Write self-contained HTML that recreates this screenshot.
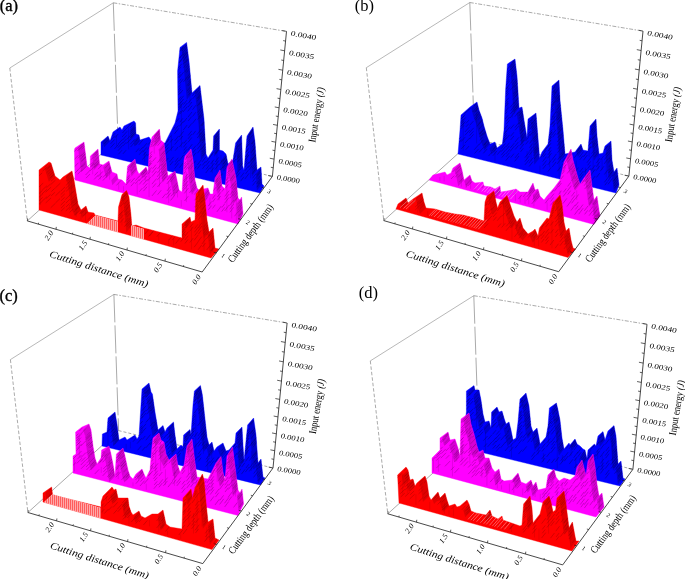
<!DOCTYPE html>
<html><head><meta charset="utf-8"><title>Input energy plots</title>
<style>html,body{margin:0;padding:0;background:#fff;}svg{display:block;}</style></head>
<body><svg width="685" height="579" viewBox="0 0 685 579" font-family="'Liberation Serif', serif" fill="#000">
<defs><pattern id="hatch" width="2" height="4" patternUnits="userSpaceOnUse"><rect x="0" y="0" width="2" height="4" fill="#ffa8a8"/><rect x="0" y="0" width="1" height="4" fill="#ff5c5c"/></pattern></defs>
<g id="panel-a">
<line x1="27.3" y1="220.9" x2="118" y2="139" stroke="#707070" stroke-width="0.6"/>
<line x1="118" y1="139" x2="272.4" y2="176.4" stroke="#707070" stroke-width="0.6" stroke-dasharray="3 2"/>
<line x1="9.8" y1="68" x2="113.3" y2="2.8" stroke="#707070" stroke-width="0.5"/>
<line x1="113.3" y1="2.8" x2="286.5" y2="31.4" stroke="#707070" stroke-width="0.6" stroke-dasharray="4 1.5 1.5 1.5"/>
<line x1="9.8" y1="68" x2="27.3" y2="220.9" stroke="#707070" stroke-width="0.6" stroke-dasharray="3.5 2"/>
<line x1="113.3" y1="2.8" x2="118" y2="139" stroke="#707070" stroke-width="0.6" stroke-dasharray="28 3"/>
<clipPath id="cablue"><polygon points="101,155 101,142 108,136 110,141 113,132 120,127 122,130 124,126 134,121 135.6,123 136,134 139,135 140,140 149,137 151,140 153,143 165,143 170,133 175,123 178,111 177.6,71 180,47.4 186.6,42.4 189,61 192,93 200,85.4 204,119 206,154 208,158 213,150 213.6,136 219.4,129 219.4,150 223,151 226,154 228,164 233,160 235.6,143 241.6,135 242.6,166 244,170 247,136 253,127 255,142 257,170 261,167 262,184 264,186 260,193"/></clipPath>
<polygon points="101,155 101,142 108,136 110,141 113,132 120,127 122,130 124,126 134,121 135.6,123 136,134 139,135 140,140 149,137 151,140 153,143 165,143 170,133 175,123 178,111 177.6,71 180,47.4 186.6,42.4 189,61 192,93 200,85.4 204,119 206,154 208,158 213,150 213.6,136 219.4,129 219.4,150 223,151 226,154 228,164 233,160 235.6,143 241.6,135 242.6,166 244,170 247,136 253,127 255,142 257,170 261,167 262,184 264,186 260,193" fill="#0000ff" stroke="#0000ff" stroke-width="0.4"/>
<g fill="#000078" opacity="0.36" clip-path="url(#cablue)"><polygon points="108,136 110,141 104.25,147.26 102.25,142.26"/><polygon points="135.6,123 136,134 130.45,140.44 130.05,129.44"/><polygon points="139,135 140,140 134.47,146.46 133.47,141.46"/><polygon points="186.6,42.4 189,61 183.79,67.72 181.39,49.12"/><polygon points="189,61 192,93 186.81,99.73 183.81,67.73"/><polygon points="200,85.4 204,119 198.88,125.78 194.88,92.18"/><polygon points="204,119 206,154 200.89,160.79 198.89,125.79"/><polygon points="219.4,129 219.4,150 214.29,156.79 214.29,135.79"/><polygon points="226,154 228,164 222.89,170.79 220.89,160.79"/><polygon points="241.6,135 242.6,166 237.49,172.79 236.49,141.79"/><polygon points="253,127 255,142 249.89,148.79 247.89,133.79"/><polygon points="255,142 257,170 251.89,176.79 249.89,148.79"/><polygon points="261,167 262,184 256.89,190.79 255.89,173.79"/></g>
<path d="M103.83 141.5L106.18 138.97M106.17 139.5L108.91 136.53M109 138.5L104.16 143.78M112.75 135.75L115.09 133.17M117 131L119.59 128.12M129.5 125L131.86 122.3M135.76 127.4L130.43 133.58M135.84 129.6L130.74 135.52M135.92 131.8L130.92 137.6M166.75 142L169.17 139M168 139.5L170.89 135.92M173 129.5L175.15 126.8M176.1 122.1L179.19 118.2M177.9 114.9L180.99 110.98M178.47 110L181.23 106.5M178.45 107.5L180.94 104.35M178.43 105L181.4 101.23M178.38 100L181.17 96.46M178.32 95L180.4 92.37M178.3 92.5L181.15 88.88M178.28 90L180.89 86.68M178.25 87.5L180.59 84.54M178.2 82.5L181.23 78.66M178.15 77.5L180.51 74.5M178.12 75L180.6 71.86M178.34 70.14L180.95 66.83M178.58 67.78L181.69 63.84M179.06 63.06L181.9 59.45M179.54 58.34L181.75 55.53M180.26 51.26L183.25 47.46M186.9 44.73L181.97 51.09M187.2 47.05L182.6 52.99M187.5 49.38L182.81 55.44M187.8 51.7L182.64 58.37M188.1 54.02L184.59 58.57M188.7 58.67L185.39 62.96M189.23 63.46L185.89 67.79M189.46 65.92L184.76 72.02M189.69 68.38L186.53 72.49M190.15 73.31L186.22 78.42M190.38 75.77L187.07 80.08M190.85 80.69L187.05 85.63M191.31 85.62L187.03 91.18M191.54 88.08L187.82 92.92M191.77 90.54L188.15 95.25M195.17 91.97L197.48 88.93M197.83 89.43L200.87 85.43M200.31 87.98L196.05 93.63M200.92 93.15L196.79 98.63M201.23 95.74L197.04 101.3M201.85 100.91L198.82 104.94M202.46 106.08L197.51 112.66M202.77 108.66L197.87 115.18M203.08 111.25L198.91 116.78M203.38 113.83L199.89 118.48M204.14 121.5L200.95 125.74M204.57 129L200.28 134.71M204.71 131.5L200.5 137.1M204.86 134L199.98 140.48M205 136.5L201.45 141.23M205.14 139L201.98 143.2M205.43 144L201.09 149.77M205.71 149L202.1 153.81M205.86 151.5L202.35 156.16M209.75 157.5L212.5 153.85M211 155.5L213.93 151.6M213.6 149.17L215.64 146.45M213.7 146.83L215.82 144.02M213.8 144.5L216.26 141.23M213.9 142.17L216.71 138.43M214 139.83L216.92 135.95M216.03 135.17L218.69 131.64M217.97 132.83L220.78 129.1M219.4 131.33L214.65 137.65M219.4 133.67L215.46 138.9M219.4 136L215.48 141.22M219.4 138.33L215.91 142.97M219.4 140.67L216.11 145.05M219.4 143L214.84 149.06M219.4 145.33L215.75 150.18M219.4 147.67L215.2 153.25M226.5 156.5L222.69 161.57M227 159L223.09 164.2M227.5 161.5L222.59 168.02M233.87 159.07L235.99 156.25M234.24 156.64L236.57 153.54M234.61 154.21L236.82 151.29M234.99 151.79L237.45 148.51M235.36 149.36L238.38 145.34M235.73 146.93L237.85 144.11M240.6 138.5L243.53 134.6M241.68 137.58L238.24 142.16M241.85 142.75L238.7 146.94M242.02 147.92L238.69 152.34M242.1 150.5L237.32 156.86M242.18 153.08L238.37 158.15M242.27 155.67L237.33 162.23M242.43 160.83L238.93 165.49M242.52 163.42L239.44 167.51M245.14 164.21L247.24 161.42M245.36 161.79L247.55 158.87M245.57 159.36L248.5 155.46M245.79 156.93L247.85 154.19M246.21 152.07L248.36 149.22M246.64 147.21L249.49 143.43M246.86 144.79L249.81 140.86M247.07 142.36L249.52 139.1M247.29 139.93L249.57 136.89M249 135.25L251.17 132.37M250.5 133L253.08 129.57M252 130.75L254.88 126.92M253.33 129.5L249.26 134.92M254.67 139.5L251.21 144.09M255.36 147.09L250.96 152.95M255.91 154.73L251.44 160.67M256.09 157.27L252.55 161.98M256.45 162.36L252.24 167.96M256.64 164.91L253.51 169.07M256.82 167.45L252.04 173.8M261.14 169.43L257.05 174.87M261.43 174.29L257.97 178.88M261.71 179.14L258.12 183.92M110.18 140.88L114.91 135.68M110.6 143.88L114.48 139.62M110.55 147.69L114.53 143.31M114.69 137.95L118.32 133.93M114.41 148.94L118.6 144.29M118.23 144.03L122.31 139.46M117.93 147.65L122.62 142.4M117.9 150.78L122.65 145.46M118.39 154.29L122.15 150.08M122.46 133L126.67 128.23M122.08 136.97L127.05 131.36M122.37 140.29L126.76 135.33M122.6 143.27L126.54 138.82M123 145.86L126.14 142.3M122.94 153.83L126.19 150.15M126.7 128.41L130.64 123.92M127.09 139.18L130.25 135.58M126.64 143.62L130.71 138.98M130.34 127.83L134.34 123.23M130.56 131.5L134.12 127.4M130.53 137.75L134.14 133.6M130.23 144.34L134.44 139.5M130.51 147.07L134.16 142.87M135.54 141.52L139.25 137.21M135.57 145.35L139.22 141.1M135.76 152.14L139.03 148.32M138.74 144.89L143.43 139.39M139.56 150.94L142.61 147.37M139.2 154.7L142.97 150.27M142.61 148.26L146.9 143.18M142.75 152.21L146.76 147.46M143.14 155.52L146.37 151.69M142.35 159.64L147.16 153.96M148.09 144.63L151.13 140.99M147.29 149.66L151.92 144.13M147.33 156.07L151.89 150.62M151.26 158.17L155.48 153.09M151.02 161.82L155.71 156.18M156.52 152.19L159.88 148.09M156.14 159.79L160.26 154.79M160.68 149.85L163.86 145.95M164.54 144.72L169 139.2M164.87 148.35L168.67 143.64M165.16 151.4L168.38 147.41M164.81 155.4L168.73 150.55M165.2 161.8L168.34 157.91M169.99 142.59L173.03 138.79M169.7 150.71L173.33 146.17M169.36 162.23L173.66 156.85M169.93 165.21L173.1 161.24M174.87 129.97L178.4 125.5M174.47 133.81L178.8 128.33M174.71 140.82L178.56 135.96M174.74 144.64L178.53 139.84M175.13 150.67L178.14 146.85M175 161.86L178.26 157.73M174.66 165.29L178.61 160.3M174.57 168.66L178.7 163.43M179.26 51.57L183.53 46.12M179.4 58.25L183.39 53.15M179.24 62.38L183.55 56.87M179.16 77.85L183.64 72.13M179.33 84.04L183.46 78.77M179.97 93.69L182.82 90.05M179.14 101.54L183.65 95.78M179.12 104.76L183.68 98.93M179.38 107.6L183.41 102.45M179.73 114.22L183.06 109.97M179.88 122.18L182.91 118.31M179.38 126.43L183.41 121.29M179.15 136.97L183.65 131.23M179.95 139.72L182.84 136.03M179.42 146.94L183.38 141.89M179.17 160.81L183.62 155.14M179.44 167.7L183.35 162.7M183.49 56.6L186.93 52.17M183.07 61.22L187.34 55.73M183.09 64.35L187.32 58.91M183.62 67.61L186.79 63.54M183.48 81.93L186.93 77.5M183.51 104.56L186.91 100.18M183.14 108.36L187.28 103.04M183.11 111.96L187.3 106.56M183.41 122.5L187.01 117.86M183.23 130.07L187.19 124.98M183.76 143.52L186.65 139.8M183.37 147.3L187.04 142.58M183.73 150.41L186.68 146.62M183.6 153.62L186.81 149.49M183.58 161.66L186.83 157.48M183.29 165.64L187.12 160.71M182.92 169.46L187.49 163.57M188.43 78L191.47 74.07M188.56 81.92L191.34 78.3M188.21 86.05L191.69 81.54M188.04 103.42L191.86 98.45M187.97 107.15L191.93 102.01M187.71 111.35L192.19 105.54M187.94 117.2L191.96 111.97M188.32 120.88L191.58 116.64M188.21 128L191.69 123.47M188.13 135.51L191.77 130.79M188.07 138.83L191.83 133.95M188.11 142.29L191.79 137.51M187.67 150.13L192.23 144.2M188.18 159.69L191.72 155.1M188.35 163.13L191.55 158.96M188.53 167.02L191.37 163.34M192.45 95.71L196 91.06M192.82 98.78L195.63 95.09M192.44 109.81L196.01 105.13M192.62 116.43L195.83 112.23M192.42 123.51L196.03 118.79M192.75 134.72L195.71 130.84M192.65 149.81L195.8 145.69M192.79 152.99L195.66 149.23M192.5 157.22L195.95 152.69M192.67 164.67L195.78 160.61M192.06 172L196.39 166.32M197.6 95.15L200.86 90.83M197.56 98.8L200.9 94.37M197.2 106.14L201.26 100.76M197.44 119.73L201.02 114.99M197 134.68L201.46 128.76M197.18 138.07L201.28 132.65M196.98 145.64L201.48 139.69M197.37 149.28L201.09 144.35M197.5 153.26L200.96 148.68M197.29 165.02L201.17 159.9M197.44 168.7L201.01 163.98M201.98 125.92L205.89 120.72M201.84 137.76L206.03 132.19M202.44 140.95L205.43 136.97M201.8 148.69L206.06 143.02M201.9 151.92L205.96 146.52M202.08 161.8L205.78 156.89M202.35 165.42L205.51 161.22M202.45 168.85L205.42 164.9M205.68 162.77L209.83 157.25M206.06 165.61L209.44 161.11M206.02 169.43L209.49 164.81M205.72 173.04L209.79 167.62M210.63 164.13L213.92 159.74M210.17 168.67L214.38 163.07M210.52 172.11L214.03 167.44M215.21 139.18L218.68 134.56M214.71 143.4L219.17 137.47M215.4 146.59L218.48 142.49M215.34 154.11L218.54 149.85M215.19 162.01L218.69 157.36M215.18 165.21L218.71 160.51M214.96 169.52L218.93 164.23M215.47 176.35L218.42 172.43M218.79 165.15L223.04 159.5M218.8 172.33L223.03 166.7M219.32 177.84L222.51 173.6M223.64 159.83L227.49 154.7M223.34 164.12L227.79 158.21M223.47 171.24L227.66 165.67M228.37 179.71L231.75 175.21M232.38 156.96L236.07 152.05M232.05 160.67L236.39 154.9M232.47 163.54L235.97 158.89M236.01 149.16L240.04 143.8M236.24 152.2L239.82 147.44M236.43 159.77L239.62 155.52M236 174.58L240.05 169.19M236.07 177.62L239.99 172.4M240.78 161.42L243.69 157.55M240.53 165.76L243.94 161.23M240.35 169.69L244.11 164.69M240.49 177.29L243.97 172.67M240.57 181.22L243.9 176.79M244.86 141.79L249.05 136.23M245.13 149.15L248.78 144.31M244.99 152.97L248.92 147.74M244.72 157.42L249.19 151.49M244.85 160.32L249.06 154.72M244.93 167.16L248.98 161.77M244.98 170.74L248.93 165.48M245.56 173.91L248.35 170.2M244.8 179.09L249.11 173.35M248.59 136.98L252.57 131.68M248.5 140.58L252.66 135.05M248.45 163.96L252.71 158.3M248.34 167.67L252.81 161.73M248.82 170.05L252.34 165.37M252.06 144.01L256.4 138.23M252.18 147.25L256.27 141.81M252.14 151.26L256.32 145.7M252.12 155.41L256.34 149.8M252.26 159.36L256.2 154.11M252.58 178.25L255.88 173.87M252.62 181.59L255.84 177.32M252.58 185.47L255.88 181.08M256.86 176.67L260.52 171.8M256.62 183.88L260.76 178.37M256.75 187.22L260.62 182.08" stroke="#000078" stroke-width="0.9" fill="none" opacity="0.55" clip-path="url(#cablue)"/>
<path d="M102.5 144.98L102.5 150.35M116.51 135.49L116.51 145.87M128.67 127.89L128.67 149.38M144.75 151.74L144.75 161.77M162.27 146.14L162.27 164.06M171.51 134.78L171.51 151.11M181.4 103.84L181.4 147.65M189.95 93.04L189.95 103.34M199.23 115.51L199.23 138.95M212.27 160.28L212.27 173.24M216.94 152.06L216.94 171.68M220.92 155.05L220.92 178.58M230.06 167.61L230.06 177.51M238.03 153.41L238.03 160.31M250.58 157.12L250.58 178.17M254.23 142.86L254.23 160.78" stroke="#000078" stroke-width="0.7" fill="none" opacity="0.35" clip-path="url(#cablue)"/>
<clipPath id="camag"><polygon points="75,180 74.4,150 75,148 84,142 87,166 90,168 90.4,156 98,149 99.6,164 103,165 109,161 112,172 117,174 118,179 122,180 126,184 127.6,166 135,159 137,170 139,174 146,167 148,172 149.4,148 152,137 159.4,129 160.6,140 164,143 167,170 168,176 175,171 177,180 179,190 182,192 184,160 185,156 191,149 193,160 195,180 197,188 199,190 208,188 210,194 213,194 215,178 220,170 222,186 225,189 227,167 232,159 236,178 238,198 240,200 241.6,197 243,214 238,224"/></clipPath>
<polygon points="75,180 74.4,150 75,148 84,142 87,166 90,168 90.4,156 98,149 99.6,164 103,165 109,161 112,172 117,174 118,179 122,180 126,184 127.6,166 135,159 137,170 139,174 146,167 148,172 149.4,148 152,137 159.4,129 160.6,140 164,143 167,170 168,176 175,171 177,180 179,190 182,192 184,160 185,156 191,149 193,160 195,180 197,188 199,190 208,188 210,194 213,194 215,178 220,170 222,186 225,189 227,167 232,159 236,178 238,198 240,200 241.6,197 243,214 238,224" fill="#ff00ff" stroke="#ff00ff" stroke-width="0.4"/>
<g fill="#90008c" opacity="0.36" clip-path="url(#camag)"><polygon points="84,142 87,166 81.07,172.09 78.07,148.09"/><polygon points="98,149 99.6,164 93.77,170.19 92.17,155.19"/><polygon points="109,161 112,172 106.26,178.27 103.26,167.27"/><polygon points="117,174 118,179 112.31,185.32 111.31,180.32"/><polygon points="135,159 137,170 131.44,176.43 129.44,165.43"/><polygon points="146,167 148,172 142.52,178.5 140.52,173.5"/><polygon points="159.4,129 160.6,140 155.21,146.57 154.01,135.57"/><polygon points="164,143 167,170 161.64,176.6 158.64,149.6"/><polygon points="167,170 168,176 162.66,182.62 161.66,176.62"/><polygon points="175,171 177,180 171.72,186.66 169.72,177.66"/><polygon points="177,180 179,190 173.73,196.67 171.73,186.67"/><polygon points="191,149 193,160 187.82,166.74 185.82,155.74"/><polygon points="193,160 195,180 189.83,186.75 187.83,166.75"/><polygon points="195,180 197,188 191.85,194.76 189.85,186.76"/><polygon points="208,188 210,194 204.89,200.79 202.89,194.79"/><polygon points="220,170 222,186 216.89,192.79 214.89,176.79"/><polygon points="232,159 236,178 230.89,184.79 226.89,165.79"/><polygon points="236,178 238,198 232.89,204.79 230.89,184.79"/><polygon points="241.6,197 243,214 237.89,220.79 236.49,203.79"/></g>
<path d="M78.5 147.5L81.59 144.37M81.5 145.5L84.63 142.31M84.3 144.4L78.98 149.87M85.2 151.6L80.77 156.17M85.5 154L80.24 159.42M85.8 156.4L81.46 160.87M86.4 161.2L80.67 167.12M90.58 167.1L93.16 164.41M90.66 164.7L93.11 162.15M90.82 159.9L93.34 157.27M93.43 155.17L96.82 151.62M95.97 152.83L99.35 149.26M98.27 151.5L94.69 155.3M98.8 156.5L94.23 161.36M99.33 161.5L94.36 166.81M109.6 163.2L104.99 168.23M110.8 167.6L107.09 171.66M111.4 169.8L105.81 175.93M126.73 182.93L129.51 179.77M126.96 180.36L129.17 177.84M127.19 177.79L130.01 174.58M127.87 170.07L130.71 166.84M130.57 165.17L133.29 162.04M135.4 161.2L131.02 166.28M135.8 163.4L132.16 167.62M136.6 167.8L131.75 173.44M141.83 173.17L145.05 169.39M144.17 170.83L146.64 167.92M147 169.5L142.64 174.68M148.64 171.1L151.74 167.41M148.92 166.3L151.88 162.77M149.06 163.9L151.57 160.91M149.34 159.1L152.07 155.84M149.48 156.7L151.7 154.05M149.62 154.3L152.04 151.41M150.42 147.3L152.82 144.43M150.94 145.1L154.17 141.24M151.46 142.9L153.75 140.15M151.98 140.7L155.01 137.06M154.35 136.5L156.86 133.48M156.2 134.5L159.34 130.69M158.05 132.5L160.38 129.66M159.64 131.2L155.01 136.85M159.88 133.4L154.9 139.48M160.12 135.6L154.97 141.9M160.36 137.8L155.85 143.31M164.27 145.45L160.15 150.53M164.82 150.36L160.49 155.71M165.09 152.82L160.77 158.16M165.36 155.27L160.36 161.45M165.64 157.73L161.95 162.28M165.91 160.18L161.69 165.4M166.18 162.64L162.86 166.75M166.45 165.09L162.4 170.11M166.73 167.55L162.17 173.2M167.33 172L164.05 176.07M172 175L175.1 171.12M175.5 173.25L170.37 179.72M177.5 182.5L173.52 187.55M178 185L173.1 191.21M182.65 191.04L184.74 188.36M182.81 188.58L185.5 185.13M182.96 186.12L185.72 182.58M183.12 183.65L185.26 180.91M183.27 181.19L186.34 177.26M183.73 173.81L185.64 171.36M184.04 168.88L186.3 165.99M184.19 166.42L186.64 163.29M184.35 163.96L186.33 161.41M191.4 151.2L186.23 157.94M191.8 153.4L188.28 157.99M193.25 162.5L188.19 169.12M193.5 165L190.08 169.47M194 170L189.43 175.98M194.25 172.5L189.31 178.97M194.5 175L191.44 179.01M194.75 177.5L190.51 183.06M195.5 182L192.05 186.53M196 184L192.71 188.33M196.5 186L192.23 191.62M208.67 190L204.49 195.56M209.33 192L205.56 197.02M214.93 184.07L217.65 180.45M215.21 181.79L218.01 178.07M219.25 173.5L221.48 170.53M220.57 174.57L216.04 180.6M220.86 176.86L216.65 182.45M221.14 179.14L216.95 184.72M221.43 181.43L217.1 187.19M221.71 183.71L218.08 188.55M226.17 183.17L228.58 179.96M226.39 180.72L228.88 177.41M226.61 178.28L229.47 174.47M226.83 175.83L228.93 173.04M227.06 173.39L229.38 170.3M230 164.5L233.04 160.46M231.25 162.5L233.21 159.89M233 163.75L229.16 168.86M233.5 166.12L229.54 171.39M234 168.5L230.93 172.59M235 173.25L230.68 178.99M235.5 175.62L231.71 180.66M236.25 180.5L232.25 185.82M236.5 183L232.22 188.69M236.75 185.5L233.43 189.92M237 188L233.21 193.03M237.25 190.5L233.38 195.64M241.8 199.43L238.53 203.78M242 201.86L237.14 208.32M242.2 204.29L237.62 210.38M242.4 206.71L238.24 212.25M242.8 211.57L239.14 216.43M73.5 152.31L78.3 147.49M73.28 160.47L78.52 155.21M73.27 168L78.53 162.71M73.8 174.22L78 169.99M77.28 151.06L82.33 145.93M77.88 158.42L81.72 154.51M77.29 170.59L82.31 165.49M77.55 174.3L82.05 169.73M81.37 149.56L86.37 144.42M81.94 157.13L85.8 153.17M81.4 161.72L86.34 156.65M82.2 167.03L85.54 163.61M81.39 171.48L86.35 166.38M85.49 175.04L90.51 169.84M86.01 178.18L89.99 174.06M90.97 166.39L94.43 162.77M90.24 170.72L95.16 165.56M94.51 157.37L98.19 153.48M94.12 165L98.58 160.27M94.4 167.83L98.3 163.71M94.61 175.38L98.09 171.71M94.09 179.49L98.61 174.7M98.02 169.18L102.63 164.25M97.78 176.86L102.87 171.43M98.53 179.7L102.12 175.87M102.9 177.52L107.73 172.3M102.93 180.53L107.69 175.37M108 169.91L111.23 166.38M116.45 185.42L121 180.35M126.33 170.08L130.21 165.66M126.14 173.78L130.4 168.93M126.45 180.44L130.09 176.3M125.91 185L130.63 179.63M130.63 167.27L134.86 162.4M130.52 171.28L134.96 166.16M130.73 182.55L134.76 177.91M130.87 186.22L134.62 181.9M135.36 180.67L139.04 176.4M135.28 183.78L139.12 179.31M138.52 177.39L143.23 171.87M138.85 181.06L142.9 176.3M139.16 184.48L142.59 180.45M139.39 191.6L142.36 188.11M142.99 174.13L147.59 168.68M143.72 176.9L146.86 173.17M143.33 180.46L147.25 175.82M143 184.57L147.58 179.15M143.22 188.27L147.37 183.36M143.43 191.13L147.15 186.72M147.21 160.7L150.94 156.25M147.52 163.55L150.63 159.83M147.05 167.72L151.1 162.88M147.45 174.46L150.7 170.58M147.23 181.29L150.92 176.87M152.67 146.63L155.84 142.8M152.57 161.5L155.94 157.42M152.6 168.71L155.91 164.71M152.06 172.71L156.45 167.41M151.95 176.63L156.56 171.06M151.89 184.2L156.62 178.49M152.54 187.52L155.97 183.38M151.98 195.94L156.53 190.44M157.22 135.76L161.65 130.35M157.99 139L160.89 135.46M157.58 145.72L161.3 141.18M157.42 162.78L161.46 157.85M157.38 169.14L161.49 164.12M157.25 173.21L161.63 167.86M157.1 176.9L161.78 171.18M157.24 180.13L161.64 174.75M157.46 187L161.42 182.16M157.62 194.65L161.25 190.22M162.3 154.11L165.85 149.74M162.09 168.35L166.06 163.45M162 175.29L166.15 170.17M161.8 178.82L166.35 173.22M161.97 181.62L166.17 176.45M162.25 198.08L165.89 193.6M167.21 179.85L170.18 176.15M166.77 183.99L170.63 179.18M166.86 191.05L170.54 186.47M166.43 194.82L170.96 189.19M166.43 198.28L170.96 192.65M170.83 178.64L174.38 174.18M170.53 182.02L174.68 176.82M170.95 196.32L174.26 192.16M170.59 200.45L174.62 195.39M176.03 193.06L179.01 189.28M184.98 159.9L187.85 156.19M184.41 168.22L188.42 163.06M185.02 170.54L187.81 166.94M185.01 177.56L187.82 173.94M184.12 181.89L188.71 175.97M184.58 185.44L188.26 180.69M184.59 189.03L188.25 184.31M184.3 193.42L188.53 187.96M184.58 201L188.25 196.26M189.87 157.92L192.88 154M189.65 161.97L193.1 157.48M189.46 192.94L193.29 187.96M194.31 194.55L198.46 189.09M194.67 200.26L198.1 195.75M194.45 207.26L198.32 202.16M199.28 195.55L202.73 190.96M199.07 199.81L202.94 194.67M199.4 206.28L202.6 202.04M203.67 202.51L207.46 197.48M208.18 206.12L211.64 201.51M208.33 209.83L211.49 205.63M212.05 192.42L215.92 187.27M212.55 198.48L215.42 194.66M212.63 201.96L215.34 198.35M212.59 208.43L215.37 204.73M217.56 185.47L220.6 181.43M216.91 190.44L221.25 184.66M217.43 193.4L220.73 189M217.3 197.05L220.86 192.31M217.5 200.19L220.66 195.98M216.9 211.83L221.25 206.05M221.83 191.67L224.7 187.86M221.79 207.67L224.74 203.76M221.67 211.59L224.86 207.36M225.54 180.81L228.24 177.21M225.26 185.32L228.52 180.99M225.49 188.1L228.29 184.37M224.7 196.45L229.07 190.64M224.79 199.73L228.99 194.16M224.67 203.24L229.11 197.35M224.69 210.92L229.09 205.07M229.51 181.07L233.97 175.14M230.12 187.89L233.36 183.59M230.22 194.65L233.26 190.61M230.02 198.2L233.46 193.63M229.59 205.56L233.89 199.85M229.76 209.3L233.72 204.05M229.88 212.27L233.6 207.32M234.26 186.49L238.39 181.01M234.73 189.75L237.92 185.52M234.29 197.34L238.36 191.93M234.16 201.49L238.49 195.73M234.5 216.28L238.15 211.42M238.69 215.82L242.28 211.05M239.02 219.46L241.95 215.57" stroke="#90008c" stroke-width="0.9" fill="none" opacity="0.55" clip-path="url(#camag)"/>
<path d="M92.7 162.96L92.7 174.31M100.32 169.51L100.32 179.41M109.61 166.46L109.61 179.72M118.73 182.57L118.73 189.8M123.49 186.13L123.49 191.09M137.2 182.45L137.2 194.58M145.29 176.14L145.29 181.27M149.07 166.94L149.07 197.1M154.25 140.15L154.25 153.71M159.44 158.74L159.44 186.64M168.7 181.01L168.7 203.08M177.52 192.16L177.52 197.53M181.31 200.03L181.31 206.7M186.42 172.32L186.42 202.15M191.37 154.77L191.37 182.43M201 197.02L201 212.01M209.91 197.66L209.91 206.1M219.08 186.64L219.08 200.34M226.89 184.17L226.89 212.33M231.74 190.76L231.74 218.45M236.32 197.08L236.32 220.75M240.48 205.17L240.48 211.94" stroke="#90008c" stroke-width="0.7" fill="none" opacity="0.35" clip-path="url(#camag)"/>
<clipPath id="cared"><polygon points="39,210 39,170 49,162 51,163 55,176 60,180 63,177 72,171 74,180 78,204 81,210 86,206 88,212 94,213 95,215 118,221 118.5,207 122,194.5 126.5,190.5 129,197 131,215 131.8,226 136,225 144,228 182,238 182,224 190,217 191,222 195,220 196,194 203,185 205,200 207,220 209,232 213,228 215,248 219,249 211,258"/></clipPath>
<polygon points="39,210 39,170 49,162 51,163 55,176 60,180 63,177 72,171 74,180 78,204 81,210 86,206 88,212 94,213 95,215 118,221 118.5,207 122,194.5 126.5,190.5 129,197 131,215 131.8,226 136,225 144,228 182,238 182,224 190,217 191,222 195,220 196,194 203,185 205,200 207,220 209,232 213,228 215,248 219,249 211,258" fill="#ff0000" stroke="#ff0000" stroke-width="0.4"/>
<g fill="#a80000" opacity="0.36" clip-path="url(#cared)"><polygon points="51,163 55,176 48.81,181.83 44.81,168.83"/><polygon points="72,171 74,180 67.98,186 65.98,177"/><polygon points="74,180 78,204 71.99,210.01 67.99,186.01"/><polygon points="78,204 81,210 75.02,216.04 72.02,210.04"/><polygon points="86,206 88,212 82.08,218.1 80.08,212.1"/><polygon points="126.5,190.5 129,197 123.38,203.38 120.88,196.88"/><polygon points="129,197 131,215 125.4,221.4 123.4,203.4"/><polygon points="131,215 131.8,226 126.22,232.41 125.42,221.41"/><polygon points="190,217 191,222 185.82,228.74 184.82,223.74"/><polygon points="203,185 205,200 199.89,206.79 197.89,191.79"/><polygon points="205,200 207,220 201.89,226.79 199.89,206.79"/><polygon points="207,220 209,232 203.89,238.79 201.89,226.79"/><polygon points="213,228 215,248 209.89,254.79 207.89,234.79"/></g>
<path d="M44.5 167.5L47.82 164.44M51.67 165.17L47.42 169.17M52.33 167.33L46.53 172.82M53 169.5L47.85 174.38M53.67 171.67L49.32 175.79M54.33 173.83L49.71 178.23M66.5 176.5L70.07 173M69.5 174.5L71.69 172.34M72.5 173.25L66.56 179.17M73 175.5L67.96 180.53M73.5 177.75L68.27 182.98M74.8 184.8L70.58 189.03M75.6 189.6L71.99 193.23M76.4 194.4L70.67 200.17M76.8 196.8L71.18 202.47M77.2 199.2L73.3 203.13M77.6 201.6L73.67 205.57M79 206L75.28 209.77M86.67 208L81.15 213.71M102.67 217L97.8 222.23M110.33 219L106.63 223.05M118.58 220.17L120.73 217.77M118.67 217.83L121.61 214.56M118.75 215.5L122.05 211.82M119.7 206L122.95 202.37M120.4 203.5L123.51 200.02M121.1 201L123.6 198.2M121.8 198.5L124.68 195.26M127.33 192.67L122.29 198.41M128.17 194.83L123.38 200.29M129.57 202.14L124.52 207.92M129.86 204.71L126.5 208.55M130.43 209.86L125.83 215.13M130.71 212.43L126.57 217.19M131.16 217.2L126.99 221.99M131.32 219.4L125.88 225.65M131.48 221.6L126.98 226.76M153.5 230.5L148.47 236.57M172.5 235.5L168.86 240.07M182.5 237.17L184.99 233.98M182.5 234.83L185.6 230.86M182.5 232.5L185.08 229.2M182.5 230.17L184.73 227.32M182.5 227.83L185.52 223.97M185.17 223.17L188.11 219.38M187.83 220.83L190.89 216.88M190.5 219.5L185.56 225.93M195.59 219.14L197.69 216.38M195.68 216.77L198.12 213.57M195.77 214.41L198.17 211.26M195.86 212.05L198.02 209.21M195.95 209.68L198.65 206.14M196.05 207.32L197.91 204.87M196.14 204.95L198.81 201.44M196.23 202.59L198.41 199.72M196.32 200.23L198.19 197.77M196.41 197.86L199.42 193.91M198.25 193.25L200.26 190.6M200 191L202.57 187.59M201.75 188.75L203.87 185.94M204 192.5L200.12 197.66M204.33 195L199.29 201.71M204.67 197.5L200.91 202.49M205.5 205L202.14 209.47M206 210L202.42 214.75M206.25 212.5L202.88 216.98M207.4 222.4L204.19 226.67M207.8 224.8L203.45 230.59M208.2 227.2L203.36 233.64M208.6 229.6L204.32 235.29M213.25 230.5L208.91 236.28M213.5 233L210.12 237.49M213.75 235.5L209.68 240.91M214.25 240.5L210.46 245.54M214.75 245.5L210.63 250.98M38.79 175.97L42.21 172.84M37.74 188.11L43.26 183.06M38.65 193.9L42.35 190.52M37.94 198.25L43.06 193.56M38.36 201.37L42.64 197.45M38.5 204.73L42.5 201.07M42.64 171.04L46.69 167.29M42.25 190.09L47.09 185.61M42.3 193.65L47.04 189.26M42.41 200.93L46.92 196.75M46.41 169.24L50.35 165.55M46.38 187.84L50.39 184.09M45.65 192.18L51.11 187.08M46.18 198.47L50.59 194.34M45.68 202.91L51.09 197.85M50.67 177.68L55.4 173.2M51.01 181.25L55.07 177.4M50.56 184.77L55.51 180.08M51.38 191.54L54.69 188.4M51.19 195.83L54.89 192.32M50.68 207.77L55.4 203.3M55.33 187.97L60.32 183.18M55.47 195.79L60.18 191.27M55.68 202.76L59.97 198.64M60.78 191.01L64.96 186.94M60.68 194.69L65.06 190.44M60.92 197.53L64.82 193.74M61.12 200.74L64.62 197.33M60.67 205.17L65.07 200.89M60.98 208.16L64.76 204.49M61.06 211.15L64.68 207.62M66.04 178.04L69.64 174.5M65.95 181.37L69.73 177.65M65.79 185.53L69.89 181.49M65.52 188.85L70.16 184.29M66.22 191.26L69.46 188.06M65.34 199.51L70.35 194.58M65.76 203.24L69.92 199.14M66.05 207L69.63 203.47M65.72 210.98L69.96 206.8M69.51 180.27L73.41 176.4M69.36 184.05L73.56 179.88M68.87 188.6L74.04 183.46M69.59 195.01L73.33 191.29M69.21 206.08L73.71 201.61M69 209.64L73.91 204.75M69.52 212.58L73.39 208.74M74.38 200.55L78.2 196.7M74.5 204.6L78.08 201M74.01 211.89L78.57 207.3M74.42 215.24L78.15 211.48M79.37 214.1L82.59 210.82M83.29 215.98L87.71 211.42M87.98 219.72L92.65 214.85M97.4 222.21L101.75 217.58M106.66 222.95L110.23 219.06M120.29 206.89L123.59 203.19M119.49 215.22L124.4 209.7M120.43 218.25L123.45 214.85M120.01 222.73L123.87 218.39M123.84 197.16L128.6 191.75M124.28 204.15L128.15 199.75M124 212.48L128.44 207.44M124.61 214.91L127.82 211.26M124.2 222.65L128.23 218.08M124.32 226.67L128.11 222.36M129.01 227.53L133.71 222.13M137.92 232.5L141.91 227.84M144.85 234.12L149.53 228.56M149.59 235.93L153.37 231.4M156.87 236.64L160.59 232.11M172.24 240.14L175.15 236.49M175.62 243.55L180.23 237.71M180.83 233.99L184.39 229.43M180.48 237.85L184.75 232.38M180.75 241.67L184.47 236.91M185.09 224.39L187.96 220.69M184.97 228.45L188.08 224.43M184.63 236.56L188.42 231.66M184.84 240.1L188.21 235.76M184.92 243.51L188.13 239.38M189.94 227.48L193.06 223.42M189.74 231.35L193.26 226.76M189.8 242.55L193.2 238.11M194.2 201.28L198.29 195.9M194.7 204.66L197.79 200.59M194.28 208.46L198.21 203.29M194.07 212.61L198.41 206.89M194.61 228.65L197.88 224.35M194.33 232.36L198.16 227.32M194.71 235.59L197.77 231.56M194.09 240.44L198.39 234.79M194.12 247.2L198.36 241.62M198.04 202.09L201.82 197.09M197.77 206.41L202.09 200.69M198.09 209.57L201.78 204.68M197.94 216.08L201.92 210.81M198.24 219.76L201.62 215.29M197.95 228L201.92 222.74M197.89 231.39L201.97 225.99M198.48 234.05L201.38 230.21M198.07 241.57L201.79 236.64M198.21 249.68L201.66 245.11M202.12 198.66L205.87 193.68M202.17 202.37L205.83 197.51M202.61 205.4L205.38 201.72M202.1 209.81L205.89 204.77M201.9 214.03L206.09 208.45M201.83 244.1L206.16 238.35M202.5 246.96L205.5 242.97M206.52 235.08L210.08 230.34M206.56 238.77L210.05 234.13M206.73 249.94L209.88 245.75M210.51 245.09L214.92 239.22M211.35 251.03L214.08 247.4M215.6 254.7L219.2 249.91" stroke="#a80000" stroke-width="0.9" fill="none" opacity="0.55" clip-path="url(#cared)"/>
<path d="M40.5 185.2L40.5 204.85M71.46 177.79L71.46 197.14M76.29 199.35L76.29 216.79M80.98 215.21L80.98 219.72M85.5 209.63L85.5 220.98M95.16 219.42L95.16 223.67M108.45 222.86L108.45 227.38M121.94 206.56L121.94 225.43M126.22 207.69L126.22 216.51M131.36 224.06L131.36 233.77M135.58 228.46L135.58 234.59M158.73 235.91L158.73 241.41M168.62 239.19L168.62 244.17M173.69 238.93L173.69 245.59M191.5 227.18L191.5 249.39M199.93 210.15L199.93 228.29M204 214.81L204 251.48M212.72 235.86L212.72 252.24M217.4 251.75L217.4 257.79" stroke="#a80000" stroke-width="0.7" fill="none" opacity="0.35" clip-path="url(#cared)"/>
<polygon points="87,223.4 118,232.05 118,221.67 95.5,215.4" fill="#fff"/>
<polygon points="87,223.4 118,232.05 118,221.67 95.5,215.4" fill="url(#hatch)"/>
<polygon points="131.4,235.79 144,239.3 144,228.93 131.4,225.41" fill="#fff"/>
<polygon points="131.4,235.79 144,239.3 144,228.93 131.4,225.41" fill="url(#hatch)"/>
<polyline points="27.3,220.9 202.2,272 272.4,176.4 286.5,31.4" fill="none" stroke="#1a1a1a" stroke-width="0.8"/>
<path d="M286.5 31.4L282.2 30.54M285.56 41.1L283.16 40.62M284.61 50.8L280.31 49.94M283.67 60.5L281.27 60.02M282.73 70.2L278.43 69.34M281.79 79.85L279.39 79.37M280.85 89.5L276.55 88.64M279.96 98.65L277.56 98.17M279.07 107.8L274.77 106.94M278.22 116.55L275.82 116.07M277.37 125.3L273.07 124.44M276.55 133.75L274.15 133.27M275.73 142.2L271.43 141.34M274.9 150.65L272.5 150.17M274.08 159.1L269.78 158.24M273.24 167.75L270.84 167.27M272.4 176.4L268.1 175.54M27.3 220.9L27.6 218.5M56 229.29L56.3 226.89M90 239.22L90.3 236.82M127 250.03L127.3 247.63M165 261.13L165.3 258.73M38.4 224.14L38.6 222.74M72.5 234.11L72.7 232.71M108.5 244.62L108.7 243.22M146 255.58L146.2 254.18M183.5 266.54L183.7 265.14M216.24 252.88L213.64 252.18M228.17 236.63L226.37 236.14M240.81 219.42L238.21 218.72M252.04 204.12L250.24 203.64M263.98 187.87L261.38 187.17" stroke="#1a1a1a" stroke-width="0.7" fill="none"/>
<text transform="translate(290.3 35.6) rotate(10) skewX(-5)" font-size="7.2" text-anchor="start" textLength="25.8" lengthAdjust="spacingAndGlyphs">0.0040</text>
<text transform="translate(288.41 55) rotate(10) skewX(-5)" font-size="7.2" text-anchor="start" textLength="25.5" lengthAdjust="spacingAndGlyphs">0.0035</text>
<text transform="translate(286.53 74.4) rotate(10) skewX(-5)" font-size="7.2" text-anchor="start" textLength="25.2" lengthAdjust="spacingAndGlyphs">0.0030</text>
<text transform="translate(284.65 93.7) rotate(10) skewX(-5)" font-size="7.2" text-anchor="start" textLength="24.9" lengthAdjust="spacingAndGlyphs">0.0025</text>
<text transform="translate(282.87 112) rotate(10) skewX(-5)" font-size="7.2" text-anchor="start" textLength="24.6" lengthAdjust="spacingAndGlyphs">0.0020</text>
<text transform="translate(281.17 129.5) rotate(10) skewX(-5)" font-size="7.2" text-anchor="start" textLength="24.3" lengthAdjust="spacingAndGlyphs">0.0015</text>
<text transform="translate(279.53 146.4) rotate(10) skewX(-5)" font-size="7.2" text-anchor="start" textLength="24" lengthAdjust="spacingAndGlyphs">0.0010</text>
<text transform="translate(277.88 163.3) rotate(10) skewX(-5)" font-size="7.2" text-anchor="start" textLength="23.7" lengthAdjust="spacingAndGlyphs">0.0005</text>
<text transform="translate(276.2 179.4) rotate(10) skewX(-5)" font-size="7.2" text-anchor="start" textLength="23.4" lengthAdjust="spacingAndGlyphs">0.0000</text>
<text transform="translate(319.8 115.4) rotate(-80.5)" font-size="10.5" text-anchor="middle" textLength="55.5" lengthAdjust="spacingAndGlyphs">Input energy <tspan font-style="italic">(J)</tspan></text>
<text transform="translate(51 236.89) rotate(-57)" font-size="7.5" text-anchor="middle" font-style="italic" textLength="10" lengthAdjust="spacingAndGlyphs">2.0</text>
<text transform="translate(85 246.82) rotate(-57)" font-size="7.5" text-anchor="middle" font-style="italic" textLength="10" lengthAdjust="spacingAndGlyphs">1.5</text>
<text transform="translate(122 257.63) rotate(-57)" font-size="7.5" text-anchor="middle" font-style="italic" textLength="10" lengthAdjust="spacingAndGlyphs">1.0</text>
<text transform="translate(160 268.73) rotate(-57)" font-size="7.5" text-anchor="middle" font-style="italic" textLength="10" lengthAdjust="spacingAndGlyphs">0.5</text>
<text transform="translate(198.4 280.74) rotate(-57)" font-size="7.5" text-anchor="middle" font-style="italic" textLength="10" lengthAdjust="spacingAndGlyphs">0.0</text>
<text transform="translate(98 272) rotate(17.3)" font-size="10" text-anchor="middle" font-style="italic" textLength="103" lengthAdjust="spacingAndGlyphs">Cutting distance (mm)</text>
<text transform="translate(222.1 257.3) rotate(34)" font-size="6.2" text-anchor="middle">1</text>
<text transform="translate(246.8 224) rotate(34)" font-size="6.2" text-anchor="middle">2</text>
<text transform="translate(268 193.1) rotate(34)" font-size="6.2" text-anchor="middle">3</text>
<text transform="translate(253.2 235.2) rotate(-53.7)" font-size="10.5" text-anchor="middle" textLength="69.5" lengthAdjust="spacingAndGlyphs">Cutting depth (mm)</text>
<text x="-0.3" y="10.6" font-size="16.5" stroke="#000" stroke-width="0.35">(a)</text>
</g>
<g id="panel-b">
<line x1="383.8" y1="220.6" x2="474.5" y2="138.7" stroke="#707070" stroke-width="0.6"/>
<line x1="474.5" y1="138.7" x2="628.9" y2="176.1" stroke="#707070" stroke-width="0.6" stroke-dasharray="3 2"/>
<line x1="366.3" y1="67.7" x2="469.8" y2="2.5" stroke="#707070" stroke-width="0.5"/>
<line x1="469.8" y1="2.5" x2="643" y2="31.1" stroke="#707070" stroke-width="0.6" stroke-dasharray="4 1.5 1.5 1.5"/>
<line x1="366.3" y1="67.7" x2="383.8" y2="220.6" stroke="#707070" stroke-width="0.6" stroke-dasharray="3.5 2"/>
<line x1="469.8" y1="2.5" x2="474.5" y2="138.7" stroke="#707070" stroke-width="0.6" stroke-dasharray="28 3"/>
<clipPath id="cbblue"><polygon points="458,154 460,130 461,115 470,107 477,102 479,110 482,118 484,126 487,136 490,144 495,142 497,148 502.4,144 504,130 505.6,90 507.4,64 515,59 517,76 519,108 522,107 524,120 527,138 528,119 536,113 538,138 539.6,158 542,152 548,144 550,126 552,86 559,80 560,100 563,130 565,154 575,152 581,144 583,150 588,151 590,126 596,119 597,136 599,154 603,153 605,146 611,141 612,160 614,172 617,168 619,185 616,193"/></clipPath>
<polygon points="458,154 460,130 461,115 470,107 477,102 479,110 482,118 484,126 487,136 490,144 495,142 497,148 502.4,144 504,130 505.6,90 507.4,64 515,59 517,76 519,108 522,107 524,120 527,138 528,119 536,113 538,138 539.6,158 542,152 548,144 550,126 552,86 559,80 560,100 563,130 565,154 575,152 581,144 583,150 588,151 590,126 596,119 597,136 599,154 603,153 605,146 611,141 612,160 614,172 617,168 619,185 616,193" fill="#0000ff" stroke="#0000ff" stroke-width="0.4"/>
<g fill="#000078" opacity="0.36" clip-path="url(#cbblue)"><polygon points="477,102 479,110 473.34,116.34 471.34,108.34"/><polygon points="479,110 482,118 476.35,124.35 473.35,116.35"/><polygon points="482,118 484,126 478.38,132.37 476.38,124.37"/><polygon points="484,126 487,136 481.39,142.39 478.39,132.39"/><polygon points="487,136 490,144 484.41,150.4 481.41,142.4"/><polygon points="495,142 497,148 491.47,154.45 489.47,148.45"/><polygon points="515,59 517,76 511.61,82.57 509.61,65.57"/><polygon points="517,76 519,108 513.62,114.58 511.62,82.58"/><polygon points="522,107 524,120 518.65,126.61 516.65,113.61"/><polygon points="524,120 527,138 521.67,144.62 518.67,126.62"/><polygon points="536,113 538,138 532.75,144.68 530.75,119.68"/><polygon points="538,138 539.6,158 534.36,164.69 532.76,144.69"/><polygon points="559,80 560,100 554.89,106.79 553.89,86.79"/><polygon points="560,100 563,130 557.89,136.79 554.89,106.79"/><polygon points="563,130 565,154 559.89,160.79 557.89,136.79"/><polygon points="581,144 583,150 577.89,156.79 575.89,150.79"/><polygon points="596,119 597,136 591.89,142.79 590.89,125.79"/><polygon points="597,136 599,154 593.89,160.79 591.89,142.79"/><polygon points="611,141 612,160 606.89,166.79 605.89,147.79"/><polygon points="612,160 614,172 608.89,178.79 606.89,166.79"/><polygon points="617,168 619,185 613.89,191.79 611.89,174.79"/></g>
<path d="M460.67 129L464.08 125.32M460.83 126.5L464.1 122.98M461 124L464.12 120.64M461.17 121.5L463.54 118.94M461.33 119L464.19 115.92M463.75 114.5L466.43 111.59M466 112.5L469.37 108.82M468.25 110.5L470.69 107.83M474 106L476.18 103.58M478 106L472.66 112M478.5 108L474.54 112.45M479.75 112L476.39 115.79M480.5 114L475.03 120.18M481.25 116L477.79 119.91M482.5 120L476.9 126.35M483.5 124L478.97 129.15M484.75 128.5L479.88 134.06M485.5 131L481.38 135.71M488.5 140L484.06 145.11M489.25 142L484.53 147.43M496.33 146L492.37 150.64M503.17 143.17L505.21 140.75M503.43 140.83L506.22 137.53M503.7 138.5L506.88 134.72M503.97 136.17L506.41 133.27M504.23 133.83L506.53 131.1M504.6 129L507.8 125.19M505 119L508.16 115.23M505.2 114L507.26 111.54M505.3 111.5L508.52 107.66M505.5 106.5L508.43 103.01M505.6 104L507.96 101.19M505.7 101.5L508.9 97.69M505.9 96.5L508.62 93.26M506 94L508.16 91.42M506.26 89.14L508.26 86.75M506.75 82.05L509.36 78.93M506.92 79.68L510.08 75.9M507.08 77.32L509.91 73.94M507.25 74.95L510.12 71.51M507.41 72.59L509.72 69.83M511.7 63L514.57 59.53M515.29 61.43L510.4 67.38M515.57 63.86L510.7 69.8M515.86 66.29L511.69 71.37M516.14 68.71L512.04 73.72M516.43 71.14L511.9 76.68M517.15 78.46L512.12 84.63M517.31 80.92L513.66 85.38M517.46 83.38L513.85 87.81M517.62 85.85L514.36 89.83M517.77 88.31L513.22 93.88M517.92 90.77L513.46 96.24M518.08 93.23L512.86 99.63M518.38 98.15L513.77 103.81M518.54 100.62L513.62 106.65M518.69 103.08L513.49 109.46M518.85 105.54L513.54 112.06M522.33 109.17L519.05 113.23M522.67 111.33L518.81 116.11M523 113.5L519.01 118.45M523.33 115.67L519.13 120.88M523.67 117.83L518.7 123.99M524.43 122.57L520.53 127.41M524.86 125.14L520.03 131.15M525.29 127.71L521.23 132.76M526.14 132.86L521.99 138.03M527.62 137.12L530.24 133.86M527.75 134.75L530.54 131.27M528 130L530.71 126.61M528.12 127.62L530.02 125.26M528.25 125.25L530.75 122.13M528.38 122.88L530.71 119.95M531.17 118.5L533.31 115.81M533.83 116.5L536.01 113.74M536.4 118L531.61 124.1M536.6 120.5L531.79 126.63M536.8 123L531.69 129.51M537 125.5L532.51 131.22M537.2 128L533.43 132.81M537.4 130.5L534.3 134.46M537.6 133L532.93 138.96M537.8 135.5L533.81 140.59M538.2 140.5L534.9 144.71M538.6 145.5L534.43 150.83M538.8 148L534.56 153.42M540.9 157.5L543.79 153.8M544 151.5L547.09 147.51M545.5 149.5L547.49 146.92M547 147.5L549.66 144.04M548.79 142.93L550.93 140.13M549.07 140.36L551.67 136.97M549.36 137.79L552.06 134.26M549.64 135.21L552.35 131.68M549.93 132.64L552.28 129.57M550.62 125L553.49 121.25M550.88 120L553.63 116.39M551.25 112.5L553.66 109.35M551.38 110L553.23 107.57M551.5 107.5L554.02 104.2M551.62 105L554.49 101.24M551.75 102.5L553.76 99.87M551.88 100L554.73 96.25M552.12 95L554.91 91.35M552.25 92.5L554.22 89.92M552.38 90L554.64 87.02M554.83 85.5L557.06 82.57M557.17 83.5L559.53 80.36M559.38 87.5L554.99 93.33M559.62 92.5L554.99 98.66M559.75 95L556.14 99.81M559.88 97.5L556.67 101.77M560.25 102.5L557.16 106.61M560.5 105L556.68 110.08M561 110L557.61 114.51M561.25 112.5L556.68 118.58M561.5 115L557.89 119.81M561.75 117.5L558.69 121.57M562.25 122.5L557.74 128.5M562.5 125L558.81 129.91M562.75 127.5L557.91 133.94M563.2 132.4L560.07 136.56M563.4 134.8L559.69 139.73M563.8 139.6L559.66 145.11M564.2 144.4L560.78 148.94M564.6 149.2L560.56 154.57M564.8 151.6L560.3 157.59M577 151.5L579.68 147.93M578.5 149.5L581.25 145.85M581.67 146L577.45 151.61M582.33 148L578.42 153.21M588.7 150L590.92 147.05M589.1 145L592.12 140.99M589.5 140L591.37 137.52M589.9 135L592.06 132.13M590.1 132.5L593.13 128.47M592.5 125.17L594.5 122.5M594.5 122.83L596.41 120.29M596.14 121.43L592.52 126.24M596.29 123.86L591.78 129.85M596.43 126.29L592.11 132.03M596.57 128.71L592 134.8M596.86 133.57L592.88 138.87M597.29 138.57L592.85 144.47M597.57 141.14L592.8 147.49M597.86 143.71L593.95 148.91M598.71 151.43L594.57 156.93M604.83 149.83L607.76 145.94M611.25 145.75L607.05 151.34M611.38 148.12L606.57 154.52M611.5 150.5L608.26 154.8M611.75 155.25L608.73 159.27M612.4 162.4L609.09 166.8M612.8 164.8L608.72 170.23M613.2 167.2L609.02 172.76M613.6 169.6L610.42 173.83M617.29 170.43L613.47 175.51M617.86 175.29L613.76 180.74M618.14 177.71L613.59 183.78M618.43 180.14L613.91 186.15M618.71 182.57L614.39 188.32M457.84 140.28L461.16 136.72M457.36 144.08L461.64 139.47M461.22 118.89L465.2 114.57M460.75 122.86L465.68 117.52M461 126.34L465.43 121.53M461 141.71L465.43 136.91M461.25 148.94L465.18 144.68M465.83 123.51L468.88 120.16M465.84 126.94L468.87 123.61M464.85 132.01L469.85 126.53M464.91 135.3L469.8 129.95M464.98 143.07L469.72 137.88M465.64 149.8L469.07 146.05M469.5 125.46L473.43 121.12M469.22 132.82L473.72 127.84M469.51 135.67L473.43 131.33M469.36 139.05L473.57 134.39M474.89 111.63L478.35 107.76M474.47 115.73L478.78 110.91M474.49 118.79L478.76 114.01M474.13 149.82L479.11 144.24M474.58 153.45L478.66 148.88M479.02 123.57L483.55 118.44M479.27 134.16L483.31 129.59M479.42 137.09L483.16 132.86M479.75 140.24L482.83 136.74M478.99 144.79L483.58 139.59M479.13 152.3L483.45 147.41M482.87 135.53L487.69 130.03M483.3 145.43L487.27 140.9M483.3 153.36L487.27 148.83M488.51 156.05L491.73 152.34M493.37 148.8L496.62 145.01M493.07 152.49L496.92 148M492.84 155.79L497.15 150.76M497.27 154.67L500.99 150.29M501.05 144.77L505.77 139.15M501.26 148.61L505.56 143.5M501.27 151.6L505.55 146.52M501.25 155.18L505.57 150.05M501.77 157.61L505.05 153.71M505.79 71.05L509.8 66.23M505.75 85.46L509.84 80.56M505.77 89.09L509.82 84.23M506.01 92.02L509.58 87.75M506.04 121.29L509.55 117.08M506.22 124.15L509.37 120.36M505.55 132.07L510.04 126.69M505.95 139.17L509.64 134.75M506.01 146.92L509.58 142.63M506.06 149.93L509.53 145.75M505.75 153.99L509.84 149.08M506.08 156.78L509.51 152.67M505.69 160.7L509.9 155.66M510.51 65.43L514.05 61.15M509.93 70.32L514.63 64.62M510.34 83.51L514.22 78.81M510.13 90.36L514.43 85.15M509.96 107.51L514.6 101.89M510.57 110.67L513.99 106.52M510.11 114.23L514.45 108.98M509.97 118.05L514.59 112.45M510.5 128.85L514.06 124.55M510.61 136.3L513.95 132.25M510.62 139.97L513.94 135.96M510.23 148.06L514.33 143.1M509.91 151.61L514.65 145.88M510.61 157.71L513.95 153.66M515.12 83.31L518.52 79.16M514.92 86.62L518.72 81.97M515.39 89.97L518.24 86.48M514.95 93.54L518.69 88.97M515.28 97L518.36 93.23M515.26 101.16L518.37 97.36M515.27 107.97L518.37 104.18M514.79 116.71L518.85 111.74M514.81 127.57L518.83 122.65M515.12 130.28L518.52 126.12M514.85 142.21L518.79 137.38M515.24 145.88L518.39 142.03M515.16 149.5L518.48 145.44M514.82 158.09L518.82 153.2M514.61 161.39L519.03 155.99M519.89 114.47L524.01 109.37M519.82 118.34L524.08 113.07M520.12 125.9L523.78 121.37M520.4 129.73L523.5 125.9M519.99 133.95L523.91 129.1M520.28 137.42L523.62 133.29M520.02 141.53L523.88 136.76M519.74 145.47L524.16 140.01M519.78 149.18L524.12 143.82M520.51 151.83L523.39 148.27M525.55 141.06L528.59 137.26M525.58 144.42L528.57 140.68M524.84 157.67L529.3 152.1M524.83 161.58L529.31 155.98M524.96 164.84L529.18 159.58M529.51 122.38L532.69 118.37M529.44 126.13L532.76 121.95M529.63 129.65L532.58 125.93M529.52 136.21L532.68 132.23M529.45 143.49L532.76 139.32M529.41 147.7L532.79 143.44M529.05 151.67L533.16 146.49M529.06 155.29L533.15 150.13M528.81 163.2L533.39 157.44M529.07 166.53L533.14 161.4M534.32 120.9L537.8 116.48M534.07 138.58L538.06 133.51M534.62 141.96L537.5 138.29M533.75 149.61L538.38 143.72M533.76 152.85L538.36 147M533.84 155.9L538.29 150.24M534.15 158.97L537.98 154.1M543.15 154.11L545.9 150.55M543.09 157.19L545.97 153.47M542.62 161.6L546.43 156.66M542.58 165.54L546.47 160.51M542.9 168.79L546.15 164.59M547.31 137.89L551.79 132.03M548.01 140.21L551.09 136.19M547.99 143.88L551.11 139.8M548.03 147.1L551.07 143.13M547.98 151.16L551.12 147.05M547.78 155.01L551.32 150.38M547.59 158.26L551.5 153.15M547.73 164.97L551.36 160.23M547.92 171.61L551.17 167.36M552.48 88.87L555.85 84.42M552.65 92.83L555.68 88.82M552.32 97.28L556.01 92.41M551.97 105.71L556.36 99.91M551.94 117.26L556.39 111.4M552.47 120.14L555.86 115.66M551.92 124.56L556.41 118.64M552.57 126.88L555.76 122.67M552.31 134.59L556.02 129.69M552.7 137.2L555.63 133.32M551.91 159.84L556.42 153.88M552.59 162.53L555.74 158.38M552.23 166.97L556.1 161.87M557.43 99.02L560.83 94.48M557.47 102.44L560.79 98.02M557.07 109.66L561.19 104.17M556.98 113.04L561.28 107.34M557.52 116.22L560.73 111.95M557.08 120.39L561.18 114.93M557.11 124.02L561.15 118.63M556.89 134.75L561.36 128.81M557.6 137.87L560.66 133.79M557.18 142.07L561.08 136.88M557.18 145.74L561.08 140.56M557.6 149.23L560.66 145.15M557.53 152.7L560.73 148.45M557.73 159.76L560.53 156.04M557.13 163.96L561.12 158.66M557.3 171.35L560.95 166.5M561.97 147.65L565.13 143.45M561.84 150.97L565.26 146.43M561.63 155.37L565.47 150.26M561.94 158.59L565.16 154.3M561.86 162.16L565.24 157.65M562.09 165.49L565.01 161.61M561.79 169.38L565.31 164.71M565.81 158.59L569.79 153.29M566.19 171.95L569.4 167.68M569.85 170.08L573.59 165.11M569.5 177.35L573.93 171.46M574.29 157.84L578.22 152.61M574.09 173.32L578.43 167.56M579.23 157.31L583.56 151.56M579.73 159.93L583.06 155.49M579.82 171.97L582.98 167.76M579.45 176.15L583.35 170.96M579.26 179.44L583.54 173.75M583.33 157L587.56 151.38M583.46 160.29L587.43 155M584.05 172.64L586.84 168.92M583.5 180.49L587.39 175.32M587.28 144L591.02 139.02M587.66 146.76L590.64 142.8M587.63 150.53L590.67 146.48M586.93 162.73L591.37 156.84M587.67 165.32L590.63 161.38M587.74 168.68L590.57 164.92M587.17 173.48L591.13 168.21M587.04 180.8L591.26 175.2M591.39 140.16L594.78 135.65M591.68 143.43L594.5 139.68M591.44 147.53L594.74 143.14M591.54 153.66L594.64 149.55M591.13 157.23L595.05 152.02M590.95 170.79L595.22 165.11M590.92 174.96L595.25 169.19M591.11 181.39L595.07 176.12M595.94 152.47L600.26 146.73M596.2 163.16L600 158.12M596.12 166.89L600.08 161.62M596.28 170.62L599.92 165.77M596.42 177.47L599.78 173M600.57 160.15L603.62 156.1M600.19 171.29L604 166.23M604.67 149.54L607.77 145.43M604.72 155.85L607.72 151.86M604.42 159.58L608.02 154.79M604.23 163.82L608.2 158.54M604.34 174.51L608.09 169.52M604.35 182.35L608.08 177.38M604.83 185.24L607.6 181.55M608.85 147.17L611.58 143.54M608.19 162.6L612.24 157.21M608.38 172.85L612.05 167.97M608.02 177.28L612.41 171.44M607.99 180.87L612.44 174.95M608.01 184.34L612.42 178.48M613.04 181.55L617.23 175.99" stroke="#000078" stroke-width="0.9" fill="none" opacity="0.55" clip-path="url(#cbblue)"/>
<path d="M463.21 121.49L463.21 150.55M476.62 105.41L476.62 143.52M485.28 142.85L485.28 148.48M494.99 150.02L494.99 161.13M507.79 101.43L507.79 108.21M512.28 105.54L512.28 117.74M521.95 112.58L521.95 145.67M527.07 151.03L527.07 158.74M531.1 131.33L531.1 160.88M539.91 165.66L539.91 172.22M549.55 147.91L549.55 167.24M554.16 90.9L554.16 129.98M559.13 126.39L559.13 176.96M563.55 141.11L563.55 149.39M567.8 161.08L567.8 172.76M571.72 164.28L571.72 177.84M576.26 160.6L576.26 179.74M585.45 167.66L585.45 183.46M589.15 145.62L589.15 156.9M593.09 154.81L593.09 171.63M598.1 155.09L598.1 169.13M602.1 159.07L602.1 169.81M606.22 152.51L606.22 177.32M610.21 151.63L610.21 160.72M615.14 174.93L615.14 186.48" stroke="#000078" stroke-width="0.7" fill="none" opacity="0.35" clip-path="url(#cbblue)"/>
<clipPath id="cbmag"><polygon points="429,180 433,175 445,172 447,175 451,173 453,168 460,163 462,170 464,180 470,175 472,181 475,183 483,182 484,186 491,187 495,189 500,186 500.6,192 507,191 512,190 516,189 520,192 528,192 533,183 535,190 538,189 540,196 544,200 547,196 554,188 560,180 564,162 571,149 573,160 578,178 580,184 584,178 590,170 592,186 594,200 597,196 599,210 600,216 594,224.5"/></clipPath>
<polygon points="429,180 433,175 445,172 447,175 451,173 453,168 460,163 462,170 464,180 470,175 472,181 475,183 483,182 484,186 491,187 495,189 500,186 500.6,192 507,191 512,190 516,189 520,192 528,192 533,183 535,190 538,189 540,196 544,200 547,196 554,188 560,180 564,162 571,149 573,160 578,178 580,184 584,178 590,170 592,186 594,200 597,196 599,210 600,216 594,224.5" fill="#ff00ff" stroke="#ff00ff" stroke-width="0.4"/>
<g fill="#90008c" opacity="0.36" clip-path="url(#cbmag)"><polygon points="460,163 462,170 456.22,176.23 454.22,169.23"/><polygon points="462,170 464,180 458.23,186.24 456.23,176.24"/><polygon points="470,175 472,181 466.29,187.3 464.29,181.3"/><polygon points="500,186 500.6,192 495.1,198.48 494.5,192.48"/><polygon points="533,183 535,190 529.73,196.67 527.73,189.67"/><polygon points="538,189 540,196 534.76,202.69 532.76,195.69"/><polygon points="571,149 573,160 567.89,166.79 565.89,155.79"/><polygon points="573,160 578,178 572.89,184.79 567.89,166.79"/><polygon points="578,178 580,184 574.89,190.79 572.89,184.79"/><polygon points="590,170 592,186 586.89,192.79 584.89,176.79"/><polygon points="592,186 594,200 588.89,206.79 586.89,192.79"/><polygon points="597,196 599,210 593.89,216.79 591.89,202.79"/><polygon points="599,210 600,216 594.89,222.79 593.89,216.79"/></g>
<path d="M452.5 172L454.9 169.47M460.67 165.33L456.62 169.7M461.33 167.67L455.7 173.76M462.5 172.5L457.92 177.46M463.5 177.5L459.26 182.11M471.33 179L466.09 184.8M500.2 188L496.58 192.28M500.4 190L494.94 196.45M529.75 191.25L532.4 187.92M534.33 187.67L530.46 192.58M538.67 191.33L535.24 195.71M539.33 193.67L535.7 198.32M551 193.5L553.83 189.8M557.5 185.5L559.57 182.76M559 183.5L560.84 181.05M561.07 178.93L563.58 175.59M562.21 173.79L564.63 170.57M562.79 171.21L565.61 167.46M563.36 168.64L566.17 164.9M565.67 161.33L568.34 157.78M569.17 154.83L572.01 151.05M571.4 151.2L568.09 155.61M571.8 153.4L567.3 159.39M573.71 162.57L568.88 169M574.43 165.14L570.75 170.03M575.14 167.71L571.91 172.01M576.57 172.86L572.9 177.74M578.67 180L573.65 186.67M579.33 182L575.4 187.23M581.83 183.5L584.6 179.81M583.17 181.5L585.6 178.27M586 177.5L587.86 175.03M587.5 175.5L589.51 172.83M590.29 172.29L586.19 177.73M590.57 174.57L586.73 179.69M590.86 176.86L586.47 182.69M591.43 181.43L586.87 187.49M591.71 183.71L588.05 188.59M592.33 188.33L588.1 193.97M593 193L588.14 199.46M593.67 197.67L589.18 203.63M597.33 198.33L593.12 203.94M597.67 200.67L594.54 204.83M598.67 207.67L594.36 213.39M599.33 212L595.6 216.96M599.67 214L594.63 220.7M451.07 178.96L454.23 175.61M455.03 177.38L458.36 173.82M468.11 185.87L473.13 180.32M481.64 188.06L485.14 184.07M509.12 195.47L513.86 189.73M513.62 194.98L517.09 190.75M518.5 198.96L521.84 194.84M523.08 196.94L526.99 192.06M526.67 196.93L530.94 191.58M526.59 200.33L531.02 194.77M531.97 193.51L535.84 188.61M532.49 199.66L535.31 196.09M531.73 203.91L536.08 198.4M537.1 199.2L540.16 195.29M545.19 203.28L549.09 198.2M550.23 198.6L554.03 193.62M550.6 201.51L553.66 197.48M550.39 205.43L553.87 200.86M554.19 191.42L558.5 185.72M554.54 204.97L558.15 200.18M558.53 186.86L561.41 183.02M558.61 194.36L561.33 190.74M558.03 205.88L561.91 200.72M563.13 165.21L566.6 160.58M563.42 168.09L566.31 164.26M563.38 192.35L566.35 188.4M563.11 196.57L566.62 191.9M562.89 203.63L566.84 198.38M567.78 157.96L570.53 154.3M567.33 162.52L570.98 157.65M567.19 173.52L571.12 168.3M567.62 186.46L570.69 182.36M566.93 191.51L571.38 185.58M567.7 194.55L570.61 190.68M566.94 206.5L571.37 200.62M571.39 174.57L574.86 169.95M571.25 181.22L575 176.23M571.41 196.35L574.84 191.79M571.31 200.27L574.94 195.45M571.63 203.3L574.62 199.32M570.93 210.54L575.32 204.69M574.6 179.01L578.96 173.2M575.37 181.18L578.19 177.42M575.01 184.8L578.54 180.1M574.54 188.63L579.02 182.68M574.91 199.41L578.65 194.44M575.2 206.09L578.35 201.9M575.33 209.46L578.23 205.61M574.55 214.69L579.01 208.77M578.93 209.96L583.01 204.52M578.74 214.15L583.2 208.22M584.67 182L587.65 178.04M584.18 185.67L588.14 180.4M584.68 189.07L587.63 185.16M584.26 210.9L588.06 205.85M584.63 214.39L587.68 210.33M588.87 183.44L593.16 177.73M589.01 194.7L593.01 189.38M589.05 198.37L592.97 193.17M589.32 204.83L592.7 200.33M589.04 211.69L592.99 206.43M589.11 215.63L592.92 210.56M593.11 204.88L596.53 200.33M592.88 211.58L596.76 206.42M592.62 215.62L597.02 209.77M593.32 218.68L596.32 214.7M596.66 216.8L601.05 210.97M597.18 219.79L600.53 215.33" stroke="#90008c" stroke-width="0.9" fill="none" opacity="0.55" clip-path="url(#cbmag)"/>
<path d="M439.89 177.06L439.89 180.94M444.14 175.8L444.14 181.47M461.36 174.36L461.36 186.73M466.08 184.06L466.08 188M470.62 181.95L470.62 188.82M474.95 187.24L474.95 190.39M506.58 194.08L506.58 198.92M515.36 194.27L515.36 201.29M520.17 195.83L520.17 202.59M525.03 196.43L525.03 203.9M528.8 195.67L528.8 204.38M533.9 193.96L533.9 206.29M547.14 202.47L547.14 209.86M556.35 199.34L556.35 212.34M559.97 190.52L559.97 200.11M576.78 190.25L576.78 199.91M591.01 192.11L591.01 207.85M594.82 204.83L594.82 216.23M598.86 212.91L598.86 223.07" stroke="#90008c" stroke-width="0.7" fill="none" opacity="0.35" clip-path="url(#cbmag)"/>
<path d="M474.01 189.37L482.72 179.72M477.59 190.33L486.26 180.64M481.66 191.42L490.29 181.7M484.32 192.13L492.91 182.38M487.07 192.87L495.64 183.09M489.36 193.49L497.91 183.69M492.18 194.24L500.69 184.42M495.4 195.11L503.88 185.25M498.92 196.05L507.36 186.16M501.74 196.81L510.15 186.89M504.04 197.42L512.42 187.49M507.03 198.23L515.39 188.27M510.44 199.14L518.75 189.15" stroke="#fff" stroke-width="0.5" fill="none" opacity="0.7" clip-path="url(#cbmag)"/>
<clipPath id="cbred"><polygon points="396,209 398,204 406,198 408,203 413,199 422,193 424,202 426,208 435,209 445,212 455,214 463,215 475,218 484,221 485,202 487,196 494,191 496,202 497.6,208 500,202 507,195.5 510,204 514,216 517,222 520,218 523,228 528,234 533,231 535,229 538,236 539.4,228 547,218 549,219 553,203 560,195 562,204 564,222 566,231 569,228 571,240 573,248 575.6,249 568,257.4"/></clipPath>
<polygon points="396,209 398,204 406,198 408,203 413,199 422,193 424,202 426,208 435,209 445,212 455,214 463,215 475,218 484,221 485,202 487,196 494,191 496,202 497.6,208 500,202 507,195.5 510,204 514,216 517,222 520,218 523,228 528,234 533,231 535,229 538,236 539.4,228 547,218 549,219 553,203 560,195 562,204 564,222 566,231 569,228 571,240 573,248 575.6,249 568,257.4" fill="#ff0000" stroke="#ff0000" stroke-width="0.4"/>
<g fill="#a80000" opacity="0.36" clip-path="url(#cbred)"><polygon points="406,198 408,203 401.8,208.81 399.8,203.81"/><polygon points="422,193 424,202 417.93,207.95 415.93,198.95"/><polygon points="424,202 426,208 419.94,213.96 417.94,207.96"/><polygon points="494,191 496,202 490.46,208.45 488.46,197.45"/><polygon points="496,202 497.6,208 492.08,214.46 490.48,208.46"/><polygon points="507,195.5 510,204 504.55,210.52 501.55,202.02"/><polygon points="510,204 514,216 508.57,222.54 504.57,210.54"/><polygon points="514,216 517,222 511.6,228.56 508.6,222.56"/><polygon points="520,218 523,228 517.64,234.6 514.64,224.6"/><polygon points="523,228 528,234 522.66,240.61 517.66,234.61"/><polygon points="535,229 538,236 532.74,242.68 529.74,235.68"/><polygon points="560,195 562,204 556.89,210.79 554.89,201.79"/><polygon points="562,204 564,222 558.89,228.79 556.89,210.79"/><polygon points="564,222 566,231 560.89,237.79 558.89,228.79"/><polygon points="569,228 571,240 565.89,246.79 563.89,234.79"/><polygon points="571,240 573,248 567.89,254.79 565.89,246.79"/></g>
<path d="M401.17 203.5L404.34 200.57M403.83 201.5L407.26 198.31M407 200.5L402.84 204.42M416.5 198.5L419.07 196.03M419.5 196.5L422.73 193.36M423 197.5L416.98 203.4M423.5 199.75L419.37 203.81M424.67 204L419.91 208.69M484.62 220.12L487.01 217.41M484.75 217.75L486.94 215.26M484.88 215.38L487.32 212.59M485 213L487.67 209.95M485.12 210.62L487.67 207.72M485.38 205.88L487.43 203.53M486.83 199.5L489.1 196.9M491 195L493.4 192.22M494.4 193.2L489.96 198.37M495.6 199.8L492.08 203.91M496.53 204L491.45 209.95M499.7 205.5L502.17 202.59M502.83 201.33L506.1 197.46M507.75 197.62L502.37 204.08M508.5 199.75L505.14 203.79M509.25 201.88L505.21 206.74M510.8 206.4L506.83 211.19M511.6 208.8L506.77 214.64M513.2 213.6L508.84 218.89M516 220L512.54 224.23M520.75 220.5L516.3 225.99M522.25 225.5L518.08 230.66M524.67 230L520.83 234.77M526.33 232L522.91 236.27M536 231.33L531.3 237.32M537 233.67L533.73 237.84M539.55 231.5L542.47 227.77M541.8 227L543.98 224.2M550.07 218.21L552.58 214.94M550.64 215.93L553.73 211.89M551.21 213.64L553.87 210.16M551.79 211.36L554.87 207.32M552.36 209.07L554.66 206.05M552.93 206.79L555.73 203.11M555.25 202.5L558.25 198.54M557 200.5L558.95 197.92M558.75 198.5L561.8 194.44M560.5 197.25L556.66 202.35M561 199.5L557.48 204.19M562.29 206.57L559.09 210.83M562.57 209.14L557.62 215.73M562.86 211.71L558.62 217.35M563.14 214.29L559.69 218.87M563.43 216.86L559.28 222.38M563.71 219.43L559.05 225.63M569.8 232.8L566.55 237.12M570.2 235.2L565.22 241.82M570.6 237.6L565.54 244.33M572 244L567.38 250.15M572.5 246L567.69 252.4M411.56 204.25L415.58 200.39M415.23 206.9L420.26 202.04M415.34 209.87L420.16 205.2M420.5 202.17L425.4 197.36M420.48 205.73L425.42 200.88M448.94 217.41L452.33 213.84M460.68 219.56L464.57 215.35M465.53 222.24L469.85 217.5M471.16 224.13L474.38 220.56M475.75 223.8L479.94 219.1M479.87 225.75L483.18 222M484.18 205.72L488.09 201.24M484.29 224.32L487.99 220.09M484.06 228L488.22 223.25M488.03 201.54L491.53 197.51M487.85 205.06L491.71 200.6M487.71 213.08L491.85 208.3M487.94 216.71L491.62 212.47M487.55 220.9L492.01 215.76M493.44 205.28L496.49 201.71M492.59 214.2L497.34 208.66M493.06 216.99L496.87 212.55M493.36 220.55L496.56 216.82M497.33 210.91L501.37 206.14M497.21 220.69L501.49 215.64M497.76 227.29L500.94 223.54M501.13 204.05L505.78 198.53M501.98 216.36L504.94 212.85M501.66 227.52L505.25 223.26M506.83 207.97L509.83 204.37M506.37 212.05L510.29 207.34M506.35 215.69L510.31 210.93M506.21 226.41L510.46 221.31M505.95 230.8L510.71 225.08M509.62 221.63L514.33 215.92M510.34 223.91L513.62 219.94M510.08 227.88L513.87 223.29M514.89 229.18L518.26 225.06M514.45 236.83L518.7 231.64M519.17 228.01L523.14 223.11M519.33 234.66L522.98 230.16M519.03 238.34L523.29 233.09M528.16 237.48L531.45 233.35M532.43 235.76L536.1 231.11M536.49 240L540.78 234.52M541.06 228.27L544.64 223.65M541.01 235.75L544.68 231.02M541.22 238.78L544.48 234.57M541.41 242.46L544.28 238.76M545.58 223.79L548.69 219.75M545.56 227.11L548.71 223.01M545.35 233.47L548.92 228.82M544.94 237.95L549.33 232.24M545.55 240.81L548.73 236.67M545.74 243.83L548.54 240.19M550.43 225.48L553.45 221.51M550.41 233.35L553.47 229.34M549.99 245.13L553.89 240.02M555.05 211.11L558.56 206.46M554.9 218.72L558.7 213.68M555.42 222.08L558.18 218.42M554.96 226.37L558.65 221.48M555.36 233.08L558.25 229.25M555.4 236.92L558.21 233.19M555.11 248.19L558.5 243.7M559.82 209.81L563.91 204.37M560 216.88L563.72 211.93M560.07 224.33L563.66 219.55M560.4 227.46L563.32 223.58M559.73 235.61L564 229.94M560.4 237.86L563.33 233.96M559.89 241.76L563.84 236.5M560.04 245.63L563.69 240.78M564.16 238.41L568.18 233.05M564.18 241.48L568.16 236.18M564.25 244.66L568.09 239.55M564.04 248.83L568.3 243.16M568.01 244.07L572.49 238.11" stroke="#a80000" stroke-width="0.9" fill="none" opacity="0.55" clip-path="url(#cbred)"/>
<path d="M401.64 205.91L401.64 208.59M409.41 205.95L409.41 210.77M417.75 205.34L417.75 212.66M427.72 211.28L427.72 215.93M431.8 212.21L431.8 217.08M441.79 215.59L441.79 219.89M454.33 218.23L454.33 223.41M458.59 219.45L458.59 224.61M467.69 219.95L467.69 227.17M477.85 224.41L477.85 230.03M503.46 202.1L503.46 224.67M511.98 220.52L511.98 239.64M516.57 224.26L516.57 230.56M534.27 235.63L534.27 245.91M538.64 235.47L538.64 246.32M551.94 220.21L551.94 248.25M570.25 243.03L570.25 252.19" stroke="#a80000" stroke-width="0.7" fill="none" opacity="0.35" clip-path="url(#cbred)"/>
<path d="M400.21 207.53L409.79 198.75M403.53 208.46L413.07 199.63M405.95 209.14L415.46 200.27" stroke="#fff" stroke-width="0.5" fill="none" opacity="0.7" clip-path="url(#cbred)"/>
<path d="M429.13 215.61L438.36 206.46M431.03 216.14L440.24 206.97M433.98 216.97L443.15 207.75M437.45 217.94L446.58 208.68M439.94 218.63L449.04 209.35M443.03 219.49L452.09 210.18M445.22 220.11L454.26 210.77M448.2 220.94L457.21 211.57M450.83 221.68L459.81 212.27M453.17 222.33L462.11 212.9M455.49 222.98L464.41 213.52M457.89 223.65L466.78 214.17M460 224.24L468.87 214.74M463.41 225.19L472.24 215.65M466.43 226.04L475.23 216.47M468.85 226.72L477.62 217.12M471.23 227.38L479.97 217.76M473.64 228.05L482.35 218.41M475.72 228.64L484.42 218.97M478.15 229.32L486.82 219.63" stroke="#fff" stroke-width="0.5" fill="none" opacity="0.7" clip-path="url(#cbred)"/>
<polyline points="383.8,220.6 558.7,271.7 628.9,176.1 643,31.1" fill="none" stroke="#1a1a1a" stroke-width="0.8"/>
<path d="M643 31.1L638.7 30.24M642.06 40.8L639.66 40.32M641.11 50.5L636.81 49.64M640.17 60.2L637.77 59.72M639.23 69.9L634.93 69.04M638.29 79.55L635.89 79.07M637.35 89.2L633.05 88.34M636.46 98.35L634.06 97.87M635.57 107.5L631.27 106.64M634.72 116.25L632.32 115.77M633.87 125L629.57 124.14M633.05 133.45L630.65 132.97M632.23 141.9L627.93 141.04M631.4 150.35L629 149.87M630.58 158.8L626.28 157.94M629.74 167.45L627.34 166.97M628.9 176.1L624.6 175.24M383.8 220.6L384.1 218.2M412.5 228.99L412.8 226.59M446.5 238.92L446.8 236.52M483.5 249.73L483.8 247.33M521.5 260.83L521.8 258.43M394.9 223.84L395.1 222.44M429 233.81L429.2 232.41M465 244.32L465.2 242.92M502.5 255.28L502.7 253.88M540 266.24L540.2 264.84M572.74 252.58L570.14 251.88M584.67 236.33L582.87 235.84M597.31 219.12L594.71 218.42M608.54 203.82L606.74 203.34M620.48 187.57L617.88 186.87" stroke="#1a1a1a" stroke-width="0.7" fill="none"/>
<text transform="translate(646.8 35.3) rotate(10) skewX(-5)" font-size="7.2" text-anchor="start" textLength="25.8" lengthAdjust="spacingAndGlyphs">0.0040</text>
<text transform="translate(644.91 54.7) rotate(10) skewX(-5)" font-size="7.2" text-anchor="start" textLength="25.5" lengthAdjust="spacingAndGlyphs">0.0035</text>
<text transform="translate(643.03 74.1) rotate(10) skewX(-5)" font-size="7.2" text-anchor="start" textLength="25.2" lengthAdjust="spacingAndGlyphs">0.0030</text>
<text transform="translate(641.15 93.4) rotate(10) skewX(-5)" font-size="7.2" text-anchor="start" textLength="24.9" lengthAdjust="spacingAndGlyphs">0.0025</text>
<text transform="translate(639.37 111.7) rotate(10) skewX(-5)" font-size="7.2" text-anchor="start" textLength="24.6" lengthAdjust="spacingAndGlyphs">0.0020</text>
<text transform="translate(637.67 129.2) rotate(10) skewX(-5)" font-size="7.2" text-anchor="start" textLength="24.3" lengthAdjust="spacingAndGlyphs">0.0015</text>
<text transform="translate(636.03 146.1) rotate(10) skewX(-5)" font-size="7.2" text-anchor="start" textLength="24" lengthAdjust="spacingAndGlyphs">0.0010</text>
<text transform="translate(634.38 163) rotate(10) skewX(-5)" font-size="7.2" text-anchor="start" textLength="23.7" lengthAdjust="spacingAndGlyphs">0.0005</text>
<text transform="translate(632.7 179.1) rotate(10) skewX(-5)" font-size="7.2" text-anchor="start" textLength="23.4" lengthAdjust="spacingAndGlyphs">0.0000</text>
<text transform="translate(676.3 115.1) rotate(-80.5)" font-size="10.5" text-anchor="middle" textLength="55.5" lengthAdjust="spacingAndGlyphs">Input energy <tspan font-style="italic">(J)</tspan></text>
<text transform="translate(407.5 236.59) rotate(-57)" font-size="7.5" text-anchor="middle" font-style="italic" textLength="10" lengthAdjust="spacingAndGlyphs">2.0</text>
<text transform="translate(441.5 246.52) rotate(-57)" font-size="7.5" text-anchor="middle" font-style="italic" textLength="10" lengthAdjust="spacingAndGlyphs">1.5</text>
<text transform="translate(478.5 257.33) rotate(-57)" font-size="7.5" text-anchor="middle" font-style="italic" textLength="10" lengthAdjust="spacingAndGlyphs">1.0</text>
<text transform="translate(516.5 268.43) rotate(-57)" font-size="7.5" text-anchor="middle" font-style="italic" textLength="10" lengthAdjust="spacingAndGlyphs">0.5</text>
<text transform="translate(554.9 280.44) rotate(-57)" font-size="7.5" text-anchor="middle" font-style="italic" textLength="10" lengthAdjust="spacingAndGlyphs">0.0</text>
<text transform="translate(454.5 271.7) rotate(17.3)" font-size="10" text-anchor="middle" font-style="italic" textLength="103" lengthAdjust="spacingAndGlyphs">Cutting distance (mm)</text>
<text transform="translate(578.6 257) rotate(34)" font-size="6.2" text-anchor="middle">1</text>
<text transform="translate(603.3 223.7) rotate(34)" font-size="6.2" text-anchor="middle">2</text>
<text transform="translate(624.5 192.8) rotate(34)" font-size="6.2" text-anchor="middle">3</text>
<text transform="translate(610.5 234.9) rotate(-53.7)" font-size="10.5" text-anchor="middle" textLength="69.5" lengthAdjust="spacingAndGlyphs">Cutting depth (mm)</text>
<text x="354.8" y="10.5" font-size="16.5">(b)</text>
</g>
<g id="panel-c">
<line x1="27.9" y1="512.5" x2="118.6" y2="430.6" stroke="#707070" stroke-width="0.6"/>
<line x1="118.6" y1="430.6" x2="273" y2="468" stroke="#707070" stroke-width="0.6" stroke-dasharray="3 2"/>
<line x1="10.4" y1="359.6" x2="113.9" y2="294.4" stroke="#707070" stroke-width="0.5"/>
<line x1="113.9" y1="294.4" x2="287.1" y2="323" stroke="#707070" stroke-width="0.6" stroke-dasharray="4 1.5 1.5 1.5"/>
<line x1="10.4" y1="359.6" x2="27.9" y2="512.5" stroke="#707070" stroke-width="0.6" stroke-dasharray="3.5 2"/>
<line x1="113.9" y1="294.4" x2="118.6" y2="430.6" stroke="#707070" stroke-width="0.6" stroke-dasharray="28 3"/>
<clipPath id="ccblue"><polygon points="102,446 102.4,434 107,432 108,418 115,412 117,424 119,440 125,437 127,440 135,435 137,439 139,436 140,420 142,389 149,383 151,392 152.4,394 155,412 158,430 163,425.5 165,432 167,428 173.5,422 175,435 177,449 181,445 183,447 183.6,435 190,429.5 191,435 193,405 194.4,391 200.4,385.4 202.4,395 205,419 207,437 209,445 212,442 214,451 217,447 223,443 226,451 229,450 235,443 236,433 242,427 243,445 244,461 245.6,445 247.6,425 253.6,418 256,435 258,463 261,459 263,477 265,478 260.5,485"/></clipPath>
<polygon points="102,446 102.4,434 107,432 108,418 115,412 117,424 119,440 125,437 127,440 135,435 137,439 139,436 140,420 142,389 149,383 151,392 152.4,394 155,412 158,430 163,425.5 165,432 167,428 173.5,422 175,435 177,449 181,445 183,447 183.6,435 190,429.5 191,435 193,405 194.4,391 200.4,385.4 202.4,395 205,419 207,437 209,445 212,442 214,451 217,447 223,443 226,451 229,450 235,443 236,433 242,427 243,445 244,461 245.6,445 247.6,425 253.6,418 256,435 258,463 261,459 263,477 265,478 260.5,485" fill="#0000ff" stroke="#0000ff" stroke-width="0.4"/>
<g fill="#000078" opacity="0.36" clip-path="url(#ccblue)"><polygon points="115,412 117,424 111.3,430.3 109.3,418.3"/><polygon points="117,424 119,440 113.31,446.31 111.31,430.31"/><polygon points="149,383 151,392 145.54,398.51 143.54,389.51"/><polygon points="152.4,394 155,412 149.56,418.53 146.96,400.53"/><polygon points="155,412 158,430 152.58,436.55 149.58,418.55"/><polygon points="163,425.5 165,432 159.63,438.59 157.63,432.09"/><polygon points="173.5,422 175,435 169.7,441.65 168.2,428.65"/><polygon points="175,435 177,449 171.71,455.66 169.71,441.66"/><polygon points="190,429.5 191,435 185.81,441.73 184.81,436.23"/><polygon points="200.4,385.4 202.4,395 197.28,401.78 195.28,392.18"/><polygon points="202.4,395 205,419 199.89,425.79 197.29,401.79"/><polygon points="205,419 207,437 201.89,443.79 199.89,425.79"/><polygon points="207,437 209,445 203.89,451.79 201.89,443.79"/><polygon points="212,442 214,451 208.89,457.79 206.89,448.79"/><polygon points="223,443 226,451 220.89,457.79 217.89,449.79"/><polygon points="242,427 243,445 237.89,451.79 236.89,433.79"/><polygon points="243,445 244,461 238.89,467.79 237.89,451.79"/><polygon points="253.6,418 256,435 250.89,441.79 248.49,424.79"/><polygon points="256,435 258,463 252.89,469.79 250.89,441.79"/><polygon points="261,459 263,477 257.89,483.79 255.89,465.79"/></g>
<path d="M107.67 431.17L110.29 428.32M107.83 428.83L111.24 425.13M108 426.5L110.48 423.8M108.17 424.17L111.35 420.71M110.83 417.5L113.66 414.41M113.17 415.5L116.24 412.13M115.4 414.4L112.03 418.12M116.6 421.6L112.12 426.57M117.57 428.57L113.67 432.91M117.86 430.86L112.78 436.51M118.14 433.14L113.17 438.67M118.43 435.43L113.23 441.22M118.71 437.71L115.06 441.79M131.5 439L134.11 436.01M139.64 435.21L142.2 432.23M139.79 432.93L142.85 429.36M139.93 430.64L142.59 427.53M140.07 428.36L142.46 425.57M140.36 423.79L142.76 420.97M140.67 418.92L143.09 416.08M140.83 416.33L143.1 413.68M141.5 406L144.3 402.72M141.67 403.42L144.41 400.2M141.83 400.83L144.07 398.21M142 398.25L144.32 395.53M142.17 395.67L145.43 391.84M142.33 393.08L144.38 390.68M149.5 385.25L144.88 390.76M150 387.5L144.68 393.85M150.5 389.75L147.1 393.82M153.14 399.14L148.74 404.44M153.89 404.29L150.08 408.87M154.26 406.86L150.73 411.11M154.63 409.43L151.2 413.56M156.71 422.29L151.47 428.65M157.57 427.43L154.38 431.31M164.33 429.83L160.39 434.68M171.83 425.5L174.3 422.42M173.75 424.17L168.92 430.23M174.25 428.5L170.11 433.7M174.5 430.67L169.71 436.69M174.75 432.83L170.31 438.42M175.33 437.33L170.82 443.02M176 442L171.5 447.67M176.33 444.33L172.57 449.09M176.67 446.67L172.88 451.45M183.62 446.1L186.13 442.88M183.86 441.3L186.19 438.32M183.98 438.9L186.08 436.22M186.23 434.67L188.51 431.74M188.37 432.83L191.42 428.88M190.33 431.33L185.55 437.54M191.67 434L194.42 430.42M191.83 431.5L194.78 427.66M192.17 426.5L194.69 423.22M192.33 424L194.28 421.46M192.5 421.5L194.48 418.92M192.67 419L195.26 415.63M192.83 416.5L194.68 414.09M193.97 401.83L196.14 399M194.2 399.5L196.33 396.71M194.43 397.17L197.23 393.5M194.67 394.83L197.27 391.42M196.9 390.63L199.62 387.06M198.9 388.77L200.77 386.31M200.9 387.8L196.56 393.56M201.4 390.2L197.71 395.09M201.9 392.6L196.81 399.37M202.66 397.4L197.71 403.98M203.18 402.2L199.63 406.93M203.44 404.6L198.76 410.82M203.7 407L198.61 413.77M204.22 411.8L200 417.42M204.48 414.2L200.2 419.89M204.74 416.6L201.07 421.48M205.29 421.57L201.74 426.29M205.57 424.14L200.77 430.52M205.86 426.71L202.73 430.88M206.14 429.29L202.1 434.66M206.43 431.86L202.29 437.36M206.71 434.43L202.25 440.37M208.5 443L204.59 448.2M213.5 448.75L208.79 455.02M224.5 447L221.2 451.39M225.25 449L221 454.65M231.5 449.17L233.48 446.53M233.5 446.83L235.61 444.03M235.75 442L237.93 439.1M236 439.5L237.8 437.1M238.5 432.5L240.94 429.26M240.5 430.5L242.44 427.92M242.14 429.57L237.8 435.35M242.29 432.14L237.95 437.91M242.43 434.71L238.43 440.03M242.71 439.86L238.85 445M242.86 442.43L238.79 447.84M243.14 447.29L239.82 451.7M243.29 449.57L240.01 453.92M243.43 451.86L238.71 458.13M243.57 454.14L239.32 459.79M243.86 458.71L240.71 462.9M245.19 455.64L247.52 452.54M245.41 453.36L247.4 450.72M245.64 451.07L248.47 447.31M245.87 448.79L247.72 446.33M246.35 444L248.53 441.1M246.6 441.5L249.42 437.74M246.85 439L249.37 435.65M247.1 436.5L249.78 432.94M247.35 434L249.44 431.22M247.6 431.5L249.64 428.78M250.1 424.17L252.65 420.78M253.94 420.43L250.27 425.31M254.97 427.71L251.28 432.62M255.31 430.14L252.2 434.29M255.66 432.57L251.06 438.68M256.18 437.55L251.09 444.32M256.36 440.09L252.17 445.66M256.55 442.64L253.07 447.26M257.09 450.27L252.99 455.73M257.27 452.82L252.92 458.61M257.64 457.91L253.82 462.99M257.82 460.45L254.8 464.48M261.29 461.57L257.72 466.31M262.14 469.29L257.29 475.74M262.43 471.86L258.48 477.1M262.71 474.43L257.82 480.93M106.44 423.66L109.52 420.31M105.81 433.93L110.15 429.22M110.96 420.84L114.95 416.46M110.87 425.12L115.05 420.52M111.12 428.61L114.8 424.56M110.71 432.53L115.2 427.6M110.51 436.51L115.41 431.13M110.98 442.68L114.94 438.32M114.2 427.51L119.21 421.96M114.54 430.32L118.87 425.52M115.11 436.44L118.3 432.91M115.1 440.38L118.31 436.83M114.24 444.4L119.17 438.94M132.9 441.78L137.51 436.44M137.09 443.62L141.82 438.1M137.52 450.32L141.39 445.79M142.22 399.29L145.34 395.62M141.39 411.29L146.17 405.66M141.87 414.84L145.69 410.34M141.67 418.08L145.89 413.1M141.48 429.15L146.09 423.72M141.58 432.97L145.99 427.77M142.28 439.49L145.29 435.94M142.21 450.57L145.36 446.86M146.07 393.42L150.19 388.52M146.11 397.02L150.15 392.22M146.32 399.93L149.94 395.61M146.46 403.82L149.8 399.85M146.17 411.18L150.09 406.51M146.62 414.26L149.64 410.68M145.86 422.51L150.4 417.12M145.75 440.24L150.51 434.58M145.92 447.8L150.34 442.54M149.85 404.06L153.74 399.38M149.53 407.45L154.06 402.02M150.06 410.99L153.52 406.84M150 426.19L153.59 421.88M150.2 440.95L153.38 437.13M149.95 444.94L153.64 440.52M153.91 423.26L158.15 418.13M154.09 434.25L157.97 429.54M153.78 438.28L158.28 432.83M154.4 444.91L157.66 440.97M154.49 452.05L157.58 448.31M157.83 441.9L162.51 436.19M158.19 444.66L162.15 439.83M158.15 448.17L162.2 443.23M158.21 452.2L162.14 447.41M163.51 438.6L166.84 434.49M162.89 446.66L167.46 441.02M163.51 449.8L166.84 445.69M167.61 430.4L170.48 426.83M166.83 435.4L171.25 429.89M167.05 438.85L171.04 433.89M166.98 442.77L171.1 437.64M166.73 446.41L171.35 440.66M167.59 449.37L170.49 445.77M167.51 453.63L170.57 449.83M167.57 456.92L170.52 453.25M172.53 438.13L175.9 433.89M171.96 442.39L176.47 436.71M172.28 445.3L176.15 440.44M171.98 452.06L176.45 446.44M177.04 454.43L181.21 449.12M177.42 457.22L180.83 452.9M181.27 447.74L185.16 442.76M181.21 451.5L185.21 446.38M185.17 442.1L188.61 437.66M184.83 446.48L188.95 441.17M185.13 449.15L188.66 444.6M185.23 459.61L188.55 455.34M189.61 432.93L193.67 427.64M189.69 436.03L193.59 430.95M189.55 439.37L193.73 433.92M189.88 442.65L193.4 438.06M190.19 449.02L193.09 445.24M190.2 458.75L193.08 455M193.88 394.73L197.81 389.58M193.92 397.83L197.77 392.77M194.13 401.33L197.55 396.84M194.02 405.58L197.67 400.78M193.83 413.48L197.86 408.19M194.03 437.07L197.65 432.31M194.16 447.66L197.53 443.23M193.71 461.92L197.98 456.32M197.88 392.16L201.52 387.34M197.63 396.58L201.78 391.1M197.91 399.31L201.49 394.57M198.21 402.63L201.2 398.68M197.65 425.81L201.75 420.4M197.72 436.19L201.68 430.96M197.64 439.48L201.77 434.02M197.58 443.64L201.83 438.01M197.95 446.64L201.45 442.01M198.18 454.09L201.22 450.06M198.23 457.47L201.17 453.58M198.29 461.46L201.11 457.72M201.22 411.6L205.49 405.92M201.6 414.14L205.12 409.47M201.67 424.44L205.05 419.95M201.88 434.38L204.84 430.43M201.43 438.52L205.29 433.38M201.77 445.61L204.95 441.37M201.37 449.93L205.35 444.63M206.04 444.94L209.52 440.3M205.54 449.07L210.02 443.1M205.95 459.37L209.61 454.51M206.05 462.39L209.52 457.77M205.71 466.69L209.85 461.19M210.14 448.1L213.41 443.75M209.9 451.48L213.65 446.49M209.66 463.22L213.89 457.58M209.69 466.18L213.86 460.63M214.73 462.29L218.88 456.77M214.73 465.59L218.88 460.08M214.79 468.9L218.82 463.54M218.79 461.39L223.14 455.59M223.41 455.45L227.24 450.35M223.21 458.76L227.44 453.13M223.51 466.44L227.14 461.62M228.63 455.63L232.33 450.72M228.41 460.11L232.55 454.61M229.11 462.79L231.84 459.16M233.62 446.71L237.26 441.87M234.08 449.55L236.8 445.93M233.53 457.75L237.36 452.66M234.03 468.45L236.85 464.7M237.42 435.87L240.98 431.14M237.23 443.81L241.17 438.57M237.42 447.58L240.97 442.85M237.04 454.83L241.36 449.09M237.72 457.35L240.68 453.42M237.63 469.26L240.76 465.1M237.38 473.68L241.01 468.86M240.98 456.4L245.46 450.44M241.01 460.29L245.43 454.4M241.62 463.27L244.82 459.02M241.6 467.16L244.84 462.84M241.43 474.14L245.01 469.37M245.83 432.33L248.8 428.39M245.48 436.47L249.15 431.59M245.48 439.51L249.14 434.64M245.63 442.54L248.99 438.07M245.4 446.99L249.23 441.9M245.21 451.3L249.42 445.71M245.71 454.03L248.92 449.76M245.51 461.43L249.12 456.64M245.84 468.17L248.79 464.25M245.34 472.14L249.29 466.88M249.69 434.29L253.03 429.85M249.71 446.09L253.01 441.71M249.35 460.59L253.37 455.25M249.48 467.91L253.24 462.91M249.2 471.45L253.52 465.71M254.26 440.73L257.39 436.57M254.33 444.73L257.32 440.76M254.43 455.01L257.22 451.3M254.25 461.89L257.4 457.7M254.36 468.52L257.28 464.64M253.67 473.58L257.97 467.86M253.59 477.38L258.05 471.45M258.46 464.88L262.84 459.05M258.69 468.22L262.61 463" stroke="#000078" stroke-width="0.9" fill="none" opacity="0.55" clip-path="url(#ccblue)"/>
<path d="M103.5 437.03L103.5 443.54M107.98 428.71L107.98 445.47M112.96 424.55L112.96 431.01M126.16 443.86L126.16 449.3M130.4 441.79L130.4 448.33M143.78 401.02L143.78 413.1M160.17 432.11L160.17 438.05M179.12 454.27L179.12 462.04M183.21 448.33L183.21 463.98M195.84 411.92L195.84 456.59M203.36 430.68L203.36 453.76M207.78 455.98L207.78 470.03M211.78 448.15L211.78 458.52M216.81 459.26L216.81 472.25M220.97 458.33L220.97 466.97M225.32 458.58L225.32 464.27M239.2 441.78L239.2 449.61M247.31 433.05L247.31 450.47M251.36 451.14L251.36 470.92" stroke="#000078" stroke-width="0.7" fill="none" opacity="0.35" clip-path="url(#ccblue)"/>
<clipPath id="ccmag"><polygon points="73,473 73,456 76,454 75.6,432 82,427 89,424 91,430 93,446 95,458 97,464 101,458 101.6,450 109,446 111,454 113,464 115,476 116.4,454 123,448 125,456 128,470 130,476 133,479 136,474 142,469 144,474 146,478 150,470 151.6,450 153,438 159,433 161,440 164,442 166,454 169,460 176,454 178,466 180,472 184,465 187,446 192,439 194,455 197,477 208,479 216,463 221,456.5 223,472 225,480 227,456 232.5,447 235,466 238,490 240,493 242,489 243.6,504 238,515.5"/></clipPath>
<polygon points="73,473 73,456 76,454 75.6,432 82,427 89,424 91,430 93,446 95,458 97,464 101,458 101.6,450 109,446 111,454 113,464 115,476 116.4,454 123,448 125,456 128,470 130,476 133,479 136,474 142,469 144,474 146,478 150,470 151.6,450 153,438 159,433 161,440 164,442 166,454 169,460 176,454 178,466 180,472 184,465 187,446 192,439 194,455 197,477 208,479 216,463 221,456.5 223,472 225,480 227,456 232.5,447 235,466 238,490 240,493 242,489 243.6,504 238,515.5" fill="#ff00ff" stroke="#ff00ff" stroke-width="0.4"/>
<g fill="#90008c" opacity="0.36" clip-path="url(#ccmag)"><polygon points="89,424 91,430 85.1,436.12 83.1,430.12"/><polygon points="91,430 93,446 87.12,452.14 85.12,436.14"/><polygon points="93,446 95,458 89.13,464.15 87.13,452.15"/><polygon points="95,458 97,464 91.15,470.16 89.15,464.16"/><polygon points="109,446 111,454 105.25,460.26 103.25,452.26"/><polygon points="111,454 113,464 107.27,470.28 105.27,460.28"/><polygon points="113,464 115,476 109.28,482.29 107.28,470.29"/><polygon points="123,448 125,456 119.35,462.35 117.35,454.35"/><polygon points="125,456 128,470 122.37,476.37 119.37,462.37"/><polygon points="128,470 130,476 124.39,482.39 122.39,476.39"/><polygon points="142,469 144,474 138.49,480.47 136.49,475.47"/><polygon points="159,433 161,440 155.61,446.57 153.61,439.57"/><polygon points="164,442 166,454 160.64,460.6 158.64,448.6"/><polygon points="166,454 169,460 163.65,466.61 160.65,460.61"/><polygon points="176,454 178,466 172.72,472.66 170.72,460.66"/><polygon points="178,466 180,472 174.73,478.67 172.73,472.67"/><polygon points="192,439 194,455 188.82,461.74 186.82,445.74"/><polygon points="194,455 197,477 191.84,483.75 188.84,461.75"/><polygon points="221,456.5 223,472 217.89,478.79 215.89,463.29"/><polygon points="223,472 225,480 219.89,486.79 217.89,478.79"/><polygon points="232.5,447 235,466 229.89,472.79 227.39,453.79"/><polygon points="235,466 238,490 232.89,496.79 229.89,472.79"/><polygon points="242,489 243.6,504 238.49,510.79 236.89,495.79"/></g>
<path d="M76.41 450.61L79.63 447.38M76.32 445.72L79.49 442.54M76.28 443.28L79.28 440.26M76.23 440.83L78.99 438.06M76.19 438.39L78.75 435.82M76.14 435.94L78.46 433.62M79.3 431L82.5 427.76M91.29 432.29L85.89 437.91M91.57 434.57L86.73 439.63M91.86 436.86L87.88 441.01M92.43 441.43L87.59 446.49M92.71 443.71L88.88 447.73M93.4 448.4L87.77 454.31M93.8 450.8L88.61 456.25M95.67 460L91.44 464.46M96.33 462L92.65 465.9M98.83 463.5L101.69 460.47M100.17 461.5L103 458.48M101.65 457.5L103.82 455.18M101.8 455.5L104.55 452.56M101.95 453.5L104.26 451.03M110.5 452L106.23 456.66M112 459L108.35 463.01M112.5 461.5L108.6 465.78M113.4 466.4L109.09 471.14M113.8 468.8L110.27 472.69M114.2 471.2L108.52 477.47M114.6 473.6L109.71 478.99M115.66 475.06L118.59 471.82M115.97 470.17L118.1 467.81M116.12 467.72L119.19 464.33M116.43 462.83L119.16 459.82M116.59 460.39L119.88 456.75M116.74 457.94L119.78 454.58M119.1 453.5L122.36 449.87M121.3 451.5L124.55 447.86M123.5 450L119.55 454.45M124 452L120.09 456.41M124.5 454L119.91 459.18M125.5 458.33L120.88 463.57M126 460.67L121.11 466.21M126.5 463L122.95 467.02M127.5 467.67L123.64 472.05M128.67 472L123.2 478.24M129.33 474L125.85 477.98M135 478L137.03 475.66M139.5 473L141.91 470.19M143 471.5L138.74 476.51M148.5 475.5L150.69 472.89M150.7 469L153.17 466.05M150.9 466.5L154.01 462.78M151.3 461.5L153.36 459.03M151.5 459L154.06 455.93M151.7 456.5L154.49 453.16M151.9 454L153.89 451.62M152.38 449.1L154.56 446.49M152.94 444.3L155.79 440.88M153.22 441.9L155.82 438.77M156.5 437L158.86 434.14M159.67 435.33L156.36 439.36M160.33 437.67L155.61 443.43M164.4 444.4L161.23 448.31M165.2 449.2L161.9 453.28M167 456L163.55 460.28M168 458L164.82 461.95M171.83 459.5L174.82 455.77M174.17 457.5L177.26 453.62M176.4 456.4L173.25 460.38M176.8 458.8L172.27 464.52M178.67 468L174 473.92M181.83 471.17L184.74 467.46M183.17 468.83L185.9 465.34M184.88 464.12L187.59 460.64M185.25 461.75L187.32 459.09M185.62 459.38L188.17 456.11M186 457L188.92 453.24M186.38 454.62L189.5 450.6M186.75 452.25L189.49 448.72M187.12 449.88L189.75 446.49M189.17 445.17L192.24 441.19M192.29 441.29L187.66 447.32M192.57 443.57L187.49 450.2M193.14 448.14L190.1 452.12M193.71 452.71L190.66 456.71M194.67 459.89L189.8 466.26M195 462.33L190.35 468.43M195.33 464.78L190.65 470.91M196 469.67L191.91 475.04M196.33 472.11L192.19 477.55M196.67 474.56L192.82 479.61M209.64 478.21L211.77 475.38M210.79 475.93L213.35 472.52M211.93 473.64L214.72 469.94M213.07 471.36L215.24 468.47M215.36 466.79L217.2 464.34M219.83 460.17L222.66 456.41M221.33 459.08L216.69 465.26M222 464.25L217.46 470.29M222.33 466.83L218.18 472.35M222.67 469.42L219.62 473.46M223.5 474L218.43 480.74M224 476L220.26 480.98M224.5 478L221.28 482.28M226.1 474.3L229.04 470.39M226.5 469.5L229.07 466.08M226.7 467.1L229.33 463.6M226.9 464.7L229.36 461.43M227.3 459.9L229.99 456.32M230.25 453L232.4 450.14M231.62 450.75L233.93 447.69M232.81 449.38L228.56 455.03M233.75 456.5L228.87 462.99M234.06 458.88L230.82 463.18M234.69 463.62L230.49 469.21M235.3 468.4L232.25 472.46M235.6 470.8L230.78 477.2M235.9 473.2L232.29 478M236.2 475.6L231.83 481.41M236.8 480.4L232.29 486.39M237.1 482.8L232.87 488.43M237.4 485.2L233.92 489.83M237.7 487.6L232.82 494.09M242.27 491.5L237.73 497.53M242.53 494L238.27 499.67M243.33 501.5L238.94 507.34M72.47 459.53L76.53 455.47M72.84 465.58L76.16 462.27M77.12 438.34L81.62 433.78M77.69 441.03L81.05 437.62M77.68 444.46L81.06 441.04M77.13 448.62L81.61 444.08M77.21 455.37L81.53 451M77.38 459.17L81.36 455.14M76.8 463.45L81.95 458.23M80.75 433.97L85.89 428.7M80.75 446.08L85.9 440.81M80.79 457.78L85.85 452.6M81.23 461.52L85.41 457.25M80.81 465.04L85.84 459.89M81.07 468.77L85.57 464.16M86.38 435.35L89.72 431.89M85.83 439.47L90.27 434.87M86.35 445.55L89.75 442.03M86.37 453.3L89.73 449.83M86.22 459.94L89.88 456.16M86.27 463.4L89.83 459.71M86.02 466.98L90.08 462.77M86.45 469.99L89.65 466.69M90.03 444.13L94.05 439.93M90.06 448.02L94.03 443.87M90.45 455.3L93.63 451.98M89.68 462.6L94.4 457.67M89.9 466.54L94.18 462.07M89.54 470.4L94.54 465.17M94.71 474.02L99.07 469.4M98.81 459.7L103.7 454.48M99.57 462.39L102.94 458.78M102.75 458.49L107.37 453.52M102.52 462.35L107.6 456.86M103.32 468.98L106.8 465.23M103.43 471.95L106.69 468.43M102.69 475.88L107.44 470.75M107.11 466.6L111.41 461.92M107.42 469.44L111.1 465.43M107.22 477.06L111.3 472.62M111.77 470.92L115.09 467.26M116.02 458.49L120.38 453.64M115.78 461.91L120.63 456.51M116.42 468.95L119.98 464.99M115.75 477.31L120.65 471.85M121.48 458.71L124.58 455.22M120.69 466.45L125.37 461.18M120.73 469.41L125.32 464.24M121.37 480.08L124.68 476.36M126.32 476.95L129.36 473.49M126.11 480.42L129.57 476.47M135.6 479.9L139.65 475.19M135.89 483.66L139.37 479.61M140.6 473.99L143.86 470.16M140.03 478.82L144.43 473.65M140.48 481.6L143.97 477.5M139.95 486.06L144.5 480.72M144.06 483.78L148.47 478.55M149.17 468.58L152.12 465.04M148.65 472.29L152.64 467.51M148.45 476.07L152.85 470.81M154.17 443.16L157.31 439.37M153.36 447.95L158.13 442.18M153.72 451.33L157.77 446.44M153.6 454.92L157.89 449.72M153.39 469.02L158.09 463.33M154.26 471.23L157.23 467.64M153.67 475.65L157.82 470.64M153.48 478.89L158 473.42M154.24 481L157.25 477.36M154.24 484.91L157.25 481.26M153.83 488.75L157.65 484.13M158.72 444.76L162.55 440.08M159.11 447.93L162.16 444.2M158.37 452.35L162.9 446.83M158.61 455.7L162.66 450.76M158.6 459.52L162.67 454.54M158.93 476.14L162.34 471.99M158.32 484.9L162.95 479.25M158.89 487.31L162.38 483.06M163.87 464.36L166.97 460.53M163.48 468.2L167.36 463.4M163.29 482.9L167.55 477.64M163.43 485.82L167.41 480.91M168.71 463.37L171.89 459.41M167.95 487.15L172.64 481.3M172.7 461.22L176.16 456.87M172.73 464.9L176.12 460.63M172.82 467.95L176.03 463.91M172.93 475.86L175.93 472.09M172.33 480.75L176.52 475.47M172.66 484.12L176.19 479.68M176.4 483.33L181.04 477.45M176.83 485.9L180.61 481.1M182.12 473.82L184.9 470.26M182.04 484.46L184.99 480.69M181.57 488.93L185.46 483.95M181.74 492.8L185.29 488.26M186.88 449.71L189.93 445.77M186.69 453.31L190.12 448.87M186.67 463.08L190.14 458.59M186.6 466.43L190.2 461.77M186.44 477.42L190.36 472.36M186.3 481.33L190.5 475.9M186.93 484.42L189.88 480.6M186.71 488.11L190.09 483.73M190.35 451.26L194.77 445.5M190.63 457.37L194.49 452.33M190.94 460.11L194.18 455.89M191.14 462.89L193.97 459.2M190.57 479.27L194.55 474.07M190.97 482.65L194.15 478.51M190.67 486.95L194.45 482.02M191.04 497.04L194.08 493.07M194.39 480.36L198.21 475.35M194.79 483.69L197.81 479.73M194.49 488.24L198.11 483.5M194.09 492.53L198.51 486.74M194.21 499.72L198.39 494.23M198.31 483.93L202.28 478.67M198.36 486.87L202.23 481.74M198.53 490.19L202.06 485.51M198.65 497.22L201.94 492.87M202.45 485.89L206.41 480.62M202.82 489.4L206.05 485.11M202.4 493.38L206.46 487.98M206.72 483.03L209.76 478.99M206.28 487.64L210.21 482.42M206.59 490.35L209.9 485.94M206.21 494.76L210.27 489.36M210.23 481.13L213.87 476.29M210.31 484.29L213.79 479.66M210.41 487.46L213.68 483.11M210.45 491.18L213.64 486.93M210.16 494.56L213.93 489.55M210.18 501.33L213.92 496.36M214.99 469.28L219.36 463.46M215.71 472.24L218.64 468.35M215.32 493.85L219.04 488.9M215.49 497.12L218.87 492.63M215 504.96L219.36 499.16M219.46 467.45L223.95 461.48M220.11 470.07L223.3 465.82M219.56 478.54L223.85 472.83M220.32 484.56L223.09 480.87M219.5 489.44L223.91 483.57M219.83 500.34L223.58 495.36M219.61 504.4L223.8 498.83M224.94 465.85L228.42 461.23M225.25 477.07L228.11 473.26M225.09 481.04L228.27 476.82M224.76 485.21L228.6 480.11M225.01 488.42L228.35 483.97M225.01 492.04L228.35 487.6M224.49 503.31L228.87 497.49M224.63 506.96L228.73 501.5M228.38 461.43L232.22 456.32M228.1 468.92L232.49 463.09M228.69 479.1L231.9 474.83M228.75 485.57L231.85 481.45M228.37 489.53L232.23 484.4M228.09 497.35L232.5 491.49M228.72 500.69L231.87 496.5M233.58 474.56L237.32 469.58M233.78 477.47L237.12 473.03M233.55 480.96L237.34 475.91M233.46 488.59L237.44 483.3M233.6 507.41L237.29 502.5M238.06 499.16L242.31 493.51" stroke="#90008c" stroke-width="0.9" fill="none" opacity="0.55" clip-path="url(#ccmag)"/>
<path d="M74.5 458.93L74.5 471.39M79.37 433.83L79.37 457.44M101.26 466.95L101.26 472.96M109.26 456.71L109.26 467.74M113.43 470.08L113.43 476M118.2 461.6L118.2 479.11M132.97 482.37L132.97 486.45M146.27 483.64L146.27 489.87M155.74 443.57L155.74 473.39M160.63 442.25L160.63 470.9M165.42 469.34L165.42 485.13M174.43 468.26L174.43 485.81M188.4 463.54L188.4 474.74M196.3 479.35L196.3 502.76M204.43 487.75L204.43 504.85M212.05 479.07L212.05 489.74M217.18 471.97L217.18 481.88M235.45 484.88L235.45 496.58M240.18 500.1L240.18 514.06" stroke="#90008c" stroke-width="0.7" fill="none" opacity="0.35" clip-path="url(#ccmag)"/>
<clipPath id="ccred"><polygon points="43,502 43,493 51.6,487 52.6,495 101,507 101,502 103,496 112,487 114,490 116,489 118,498 128,498 129,506 131,512 133,515 139,511 141,516 145,518 152,514 158,514 163,510 166,524 170,527 182,529 183,498 191,489 192.4,498 195,488 202.4,474 204,480 206,502 208,522 213,519 215,538 219,540 212,549.6"/></clipPath>
<polygon points="43,502 43,493 51.6,487 52.6,495 101,507 101,502 103,496 112,487 114,490 116,489 118,498 128,498 129,506 131,512 133,515 139,511 141,516 145,518 152,514 158,514 163,510 166,524 170,527 182,529 183,498 191,489 192.4,498 195,488 202.4,474 204,480 206,502 208,522 213,519 215,538 219,540 212,549.6" fill="#ff0000" stroke="#ff0000" stroke-width="0.4"/>
<g fill="#a80000" opacity="0.36" clip-path="url(#ccred)"><polygon points="51.6,487 52.6,495 46.41,500.83 45.41,492.83"/><polygon points="116,489 118,498 112.3,504.31 110.3,495.31"/><polygon points="128,498 129,506 123.39,512.39 122.39,504.39"/><polygon points="129,506 131,512 125.4,518.39 123.4,512.39"/><polygon points="139,511 141,516 135.47,522.45 133.47,517.45"/><polygon points="163,510 166,524 160.63,530.59 157.63,516.59"/><polygon points="191,489 192.4,498 187.22,504.74 185.82,495.74"/><polygon points="202.4,474 204,480 198.89,486.79 197.29,480.79"/><polygon points="204,480 206,502 200.89,508.79 198.89,486.79"/><polygon points="206,502 208,522 202.89,528.79 200.89,508.79"/><polygon points="213,519 215,538 209.89,544.79 207.89,525.79"/></g>
<path d="M49.23 490.5L52.57 487.38M52.35 493L47.88 497.22M62.28 497.4L56.79 502.73M71.96 499.8L67.26 504.47M81.64 502.2L77.96 505.95M91.32 504.6L86.98 509.13M101.5 506L103.92 503.42M102.17 501.5L104.24 499.28M105.75 495.25L108.98 491.76M110.25 490.75L113.18 487.55M116.5 491.25L110.85 497.52M117 493.5L111.57 499.53M117.5 495.75L112.16 501.69M128.25 500L122.77 506.24M128.5 502L123.97 507.16M128.75 504L123.86 509.58M129.67 508L125.48 512.78M130.33 510L125.39 515.65M140 513.5L135.58 518.67M164 514.67L159.03 520.79M164.5 517L160.88 521.46M165 519.33L161.78 523.3M165.5 521.67L160.46 527.88M182.58 527.92L184.71 525.2M182.83 520.17L185.76 516.43M183 515L185.74 511.49M183.08 512.42L185.13 509.8M183.25 507.25L186.01 503.72M183.33 504.67L185.26 502.21M183.42 502.08L185.83 498.99M185.5 497.25L188.23 493.75M187.5 495L189.64 492.24M189.5 492.75L191.39 490.3M192.05 495.75L188.55 500.31M193.55 497L196.27 493.44M194.2 494.5L196.5 491.49M194.85 492L196.73 489.54M196.73 487.17L199.12 484.04M197.97 484.83L199.79 482.43M199.2 482.5L201.55 479.39M200.43 480.17L203.04 476.71M201.67 477.83L204.44 474.16M202.93 476L199.82 480.14M203.47 478L199.3 483.54M204.22 482.44L199.36 488.91M204.44 484.89L200.29 490.41M204.67 487.33L200.47 492.91M204.89 489.78L201.21 494.67M205.33 494.67L200.36 501.28M205.78 499.56L200.99 505.93M206.25 504.5L202.07 510.06M206.5 507L202.54 512.27M206.75 509.5L202.09 515.7M207.25 514.5L203.68 519.25M207.5 517L203.74 522M207.75 519.5L203.39 525.3M213.5 523.75L208.89 529.89M213.75 526.12L208.82 532.68M214.25 530.88L211.08 535.09M214.5 533.25L209.97 539.28M214.75 535.62L210.12 541.79M55.42 501.31L60.57 496.37M68.39 504.33L73.09 499.67M83.64 507.31L86.95 503.91M86.66 510.43L91.77 505.12M96.75 510.82L100.37 506.97M101.2 512.5L104.31 509.17M104.71 499.33L108.04 495.72M104.28 506.57L108.47 502.03M104.27 513.57L108.48 509.01M108.33 499.66L112.01 495.64M108.31 502.8L112.03 498.74M108.4 510.36L111.94 506.48M113.22 495.39L117.5 490.66M112.9 499.42L117.81 493.99M113.7 502.73L117.01 499.07M113.05 507.43L117.66 502.33M113.62 513.6L117.1 509.76M117.4 509.11L121.82 504.18M117.75 511.8L121.47 507.64M122.05 503.19L126.83 497.81M122.29 506.76L126.59 501.91M122.73 516.45L126.15 512.58M122.92 519.46L125.96 516.02M127.39 511.2L130.54 507.6M127.15 514.49L130.78 510.35M127.28 518L130.64 514.17M131.27 522.08L135.52 517.19M135.12 517.19L139.59 512M135.66 523.54L139.05 519.6M138.92 522.07L143.04 517.24M143.48 524.94L147.33 520.39M156.63 520.91L161.01 515.57M156.73 527.89L160.91 522.81M161.23 521.2L164.5 517.18M161.26 528.41L164.47 524.47M165.51 531.48L169.67 526.31M178.81 534.97L182.69 530.02M183.44 505.72L186.63 501.63M183.34 512.56L186.73 508.21M183.21 523.43L186.86 518.75M182.94 534.18L187.13 528.81M187.41 495.79L190.35 491.98M187.18 507.82L190.59 503.4M187.38 511.66L190.39 507.77M186.84 516.25L190.93 510.96M187.03 519.46L190.74 514.66M187.1 527.25L190.66 522.64M191.8 503.14L195.08 498.87M191.43 518.28L195.44 513.05M191.86 521.86L195.02 517.73M191.6 525.53L195.28 520.71M191.6 528.83L195.27 524.04M194.98 498.34L199.25 492.72M195.36 505.68L198.86 501.08M195.19 509.37L199.04 504.32M195.51 512.64L198.72 508.4M194.86 516.57L199.36 510.65M195.37 523.06L198.86 518.46M194.96 530.33L199.27 524.67M195.56 532.95L198.67 528.86M200.04 479.88L203.87 474.8M200.18 486.61L203.73 481.89M199.77 501.67L204.14 495.86M200.02 512.41L203.89 507.28M205.31 515.49L208.26 511.56M204.85 519.54L208.71 514.4M205.2 533.39L208.37 529.18M205.35 537L208.21 533.19M204.56 541.59L209 535.68M208.8 527.67L212.23 523.11M208.73 531.65L212.3 526.9M208.53 538.16L212.5 532.87M213.32 543.73L217.77 537.81" stroke="#a80000" stroke-width="0.9" fill="none" opacity="0.55" clip-path="url(#ccred)"/>
<path d="M44.5 496.09L44.5 500.42M49.66 493.75L49.66 498.91M54.13 499.05L54.13 503.13M57.99 499.77L57.99 504.22M61.88 501.47L61.88 505.32M70.74 503.43L70.74 507.81M75.79 505.18L75.79 509.24M85.29 506.37L85.29 511.91M89.22 507.29L89.22 513.02M93.37 509.54L93.37 514.19M98.56 511.63L98.56 515.65M102.76 504.47L102.76 513.51M106.37 496.2L106.37 501.29M124.44 505.45L124.44 511.27M128.96 514.74L128.96 524.21M149.46 519.79L149.46 526.37M158.82 518.69L158.82 532.62M162.86 513.16L162.86 529.08M167.59 530.85L167.59 535.09M180.75 534.33L180.75 538.8M188.88 497.78L188.88 523.68M193.44 513.16L193.44 533.6M197.11 490.51L197.11 530.85M201.95 505.36L201.95 526.64M206.78 527.32L206.78 540.02M215.55 543.16L215.55 548.6" stroke="#a80000" stroke-width="0.7" fill="none" opacity="0.35" clip-path="url(#ccred)"/>
<polygon points="44,502.28 101,518.34 101,507.94 52.5,494.28" fill="#fff"/>
<polygon points="44,502.28 101,518.34 101,507.94 52.5,494.28" fill="url(#hatch)"/>
<polyline points="27.9,512.5 202.8,563.6 273,468 287.1,323" fill="none" stroke="#1a1a1a" stroke-width="0.8"/>
<path d="M287.1 323L282.8 322.14M286.16 332.7L283.76 332.22M285.21 342.4L280.91 341.54M284.27 352.1L281.87 351.62M283.33 361.8L279.03 360.94M282.39 371.45L279.99 370.97M281.45 381.1L277.15 380.24M280.56 390.25L278.16 389.77M279.67 399.4L275.37 398.54M278.82 408.15L276.42 407.67M277.97 416.9L273.67 416.04M277.15 425.35L274.75 424.87M276.33 433.8L272.03 432.94M275.5 442.25L273.1 441.77M274.68 450.7L270.38 449.84M273.84 459.35L271.44 458.87M273 468L268.7 467.14M27.9 512.5L28.2 510.1M56.6 520.89L56.9 518.49M90.6 530.82L90.9 528.42M127.6 541.63L127.9 539.23M165.6 552.73L165.9 550.33M39 515.74L39.2 514.34M73.1 525.71L73.3 524.31M109.1 536.22L109.3 534.82M146.6 547.18L146.8 545.78M184.1 558.14L184.3 556.74M216.84 544.48L214.24 543.78M228.77 528.23L226.97 527.74M241.41 511.02L238.81 510.32M252.64 495.72L250.84 495.24M264.58 479.47L261.98 478.77" stroke="#1a1a1a" stroke-width="0.7" fill="none"/>
<text transform="translate(290.9 327.2) rotate(10) skewX(-5)" font-size="7.2" text-anchor="start" textLength="25.8" lengthAdjust="spacingAndGlyphs">0.0040</text>
<text transform="translate(289.01 346.6) rotate(10) skewX(-5)" font-size="7.2" text-anchor="start" textLength="25.5" lengthAdjust="spacingAndGlyphs">0.0035</text>
<text transform="translate(287.13 366) rotate(10) skewX(-5)" font-size="7.2" text-anchor="start" textLength="25.2" lengthAdjust="spacingAndGlyphs">0.0030</text>
<text transform="translate(285.25 385.3) rotate(10) skewX(-5)" font-size="7.2" text-anchor="start" textLength="24.9" lengthAdjust="spacingAndGlyphs">0.0025</text>
<text transform="translate(283.47 403.6) rotate(10) skewX(-5)" font-size="7.2" text-anchor="start" textLength="24.6" lengthAdjust="spacingAndGlyphs">0.0020</text>
<text transform="translate(281.77 421.1) rotate(10) skewX(-5)" font-size="7.2" text-anchor="start" textLength="24.3" lengthAdjust="spacingAndGlyphs">0.0015</text>
<text transform="translate(280.13 438) rotate(10) skewX(-5)" font-size="7.2" text-anchor="start" textLength="24" lengthAdjust="spacingAndGlyphs">0.0010</text>
<text transform="translate(278.48 454.9) rotate(10) skewX(-5)" font-size="7.2" text-anchor="start" textLength="23.7" lengthAdjust="spacingAndGlyphs">0.0005</text>
<text transform="translate(276.8 471) rotate(10) skewX(-5)" font-size="7.2" text-anchor="start" textLength="23.4" lengthAdjust="spacingAndGlyphs">0.0000</text>
<text transform="translate(320.4 407) rotate(-80.5)" font-size="10.5" text-anchor="middle" textLength="55.5" lengthAdjust="spacingAndGlyphs">Input energy <tspan font-style="italic">(J)</tspan></text>
<text transform="translate(51.6 528.49) rotate(-57)" font-size="7.5" text-anchor="middle" font-style="italic" textLength="10" lengthAdjust="spacingAndGlyphs">2.0</text>
<text transform="translate(85.6 538.42) rotate(-57)" font-size="7.5" text-anchor="middle" font-style="italic" textLength="10" lengthAdjust="spacingAndGlyphs">1.5</text>
<text transform="translate(122.6 549.23) rotate(-57)" font-size="7.5" text-anchor="middle" font-style="italic" textLength="10" lengthAdjust="spacingAndGlyphs">1.0</text>
<text transform="translate(160.6 560.33) rotate(-57)" font-size="7.5" text-anchor="middle" font-style="italic" textLength="10" lengthAdjust="spacingAndGlyphs">0.5</text>
<text transform="translate(199 572.34) rotate(-57)" font-size="7.5" text-anchor="middle" font-style="italic" textLength="10" lengthAdjust="spacingAndGlyphs">0.0</text>
<text transform="translate(98.6 563.6) rotate(17.3)" font-size="10" text-anchor="middle" font-style="italic" textLength="103" lengthAdjust="spacingAndGlyphs">Cutting distance (mm)</text>
<text transform="translate(222.7 548.9) rotate(34)" font-size="6.2" text-anchor="middle">1</text>
<text transform="translate(247.4 515.6) rotate(34)" font-size="6.2" text-anchor="middle">2</text>
<text transform="translate(268.6 484.7) rotate(34)" font-size="6.2" text-anchor="middle">3</text>
<text transform="translate(253.8 526.8) rotate(-53.7)" font-size="10.5" text-anchor="middle" textLength="69.5" lengthAdjust="spacingAndGlyphs">Cutting depth (mm)</text>
<text x="-0.5" y="300.6" font-size="16.5" stroke="#000" stroke-width="0.35">(c)</text>
</g>
<g id="panel-d">
<line x1="387.8" y1="513.8" x2="478.5" y2="431.9" stroke="#707070" stroke-width="0.6"/>
<line x1="478.5" y1="431.9" x2="632.9" y2="469.3" stroke="#707070" stroke-width="0.6" stroke-dasharray="3 2"/>
<line x1="370.3" y1="360.9" x2="473.8" y2="295.7" stroke="#707070" stroke-width="0.5"/>
<line x1="473.8" y1="295.7" x2="647" y2="324.3" stroke="#707070" stroke-width="0.6" stroke-dasharray="4 1.5 1.5 1.5"/>
<line x1="370.3" y1="360.9" x2="387.8" y2="513.8" stroke="#707070" stroke-width="0.6" stroke-dasharray="3.5 2"/>
<line x1="473.8" y1="295.7" x2="478.5" y2="431.9" stroke="#707070" stroke-width="0.6" stroke-dasharray="28 3"/>
<clipPath id="cdblue"><polygon points="461.5,447.5 466.4,412 466.4,391 474,385.6 475,390 479,390 481,400 483,414 485,422 489,421 491,428 491.6,412 497,407 499,412 502,411 504,418 506,424 509,422 511,430 513,440 516,438 518,422 520,399 526,393 529,406 531,426 533,432 537,428 539,438 540,444 546,437 548,426 549.4,408 556.4,403 558,410 560,420 562,438 564,449 569,443 570,445 575,439 577,444 580,446 583,449 585,450 587,459 588,450 594.4,444 596,446 598,436 603,431.6 605,440 608,431 614,425.6 616,436 618,464 621,461 623,478 625,479 620,486"/></clipPath>
<polygon points="461.5,447.5 466.4,412 466.4,391 474,385.6 475,390 479,390 481,400 483,414 485,422 489,421 491,428 491.6,412 497,407 499,412 502,411 504,418 506,424 509,422 511,430 513,440 516,438 518,422 520,399 526,393 529,406 531,426 533,432 537,428 539,438 540,444 546,437 548,426 549.4,408 556.4,403 558,410 560,420 562,438 564,449 569,443 570,445 575,439 577,444 580,446 583,449 585,450 587,459 588,450 594.4,444 596,446 598,436 603,431.6 605,440 608,431 614,425.6 616,436 618,464 621,461 623,478 625,479 620,486" fill="#0000ff" stroke="#0000ff" stroke-width="0.4"/>
<g fill="#000078" opacity="0.36" clip-path="url(#cdblue)"><polygon points="474,385.6 475,390 469.29,396.3 468.29,391.9"/><polygon points="479,390 481,400 475.33,406.33 473.33,396.33"/><polygon points="481,400 483,414 477.34,420.34 475.34,406.34"/><polygon points="483,414 485,422 479.35,428.35 477.35,420.35"/><polygon points="489,421 491,428 485.4,434.39 483.4,427.39"/><polygon points="497,407 499,412 493.45,418.44 491.45,413.44"/><polygon points="502,411 504,418 498.49,424.47 496.49,417.47"/><polygon points="504,418 506,424 500.5,430.48 498.5,424.48"/><polygon points="509,422 511,430 505.54,436.51 503.54,428.51"/><polygon points="511,430 513,440 507.55,446.52 505.55,436.52"/><polygon points="526,393 529,406 523.65,412.61 520.65,399.61"/><polygon points="529,406 531,426 525.67,432.62 523.67,412.62"/><polygon points="531,426 533,432 527.69,438.64 525.69,432.64"/><polygon points="537,428 539,438 533.73,444.67 531.73,434.67"/><polygon points="539,438 540,444 534.74,450.68 533.74,444.68"/><polygon points="556.4,403 558,410 552.85,416.76 551.25,409.76"/><polygon points="558,410 560,420 554.86,426.77 552.86,416.77"/><polygon points="560,420 562,438 556.88,444.78 554.88,426.78"/><polygon points="562,438 564,449 558.89,455.79 556.89,444.79"/><polygon points="575,439 577,444 571.89,450.79 569.89,445.79"/><polygon points="585,450 587,459 581.89,465.79 579.89,456.79"/><polygon points="603,431.6 605,440 599.89,446.79 597.89,438.39"/><polygon points="614,425.6 616,436 610.89,442.79 608.89,432.39"/><polygon points="616,436 618,464 612.89,470.79 610.89,442.79"/><polygon points="621,461 623,478 617.89,484.79 615.89,467.79"/></g>
<path d="M466.9 404.17L469.24 401.64M466.9 401.83L470.14 398.33M466.9 397.17L470.09 393.71M466.9 394.83L469.05 392.5M471.97 388.9L474.57 386.04M480.5 397.5L475.37 403.24M481.33 402.33L476.57 407.67M481.67 404.67L476.95 409.96M482 407L478.47 410.96M483.5 416L479.29 420.75M484.5 420L479.97 425.12M489.67 423.33L484.11 429.69M491.59 427.21L494.76 423.58M491.84 420.36L494.32 417.52M494.8 411L497.68 407.68M502.67 413.33L498.23 418.56M503.33 415.67L498.87 420.93M505.33 422L501.55 426.48M509.5 424L505.36 428.94M510.5 428L507.18 431.97M512 435L508.66 439.01M517.07 434.93L520.26 431.06M517.36 432.64L520.14 429.26M517.64 430.36L520.14 427.33M517.93 428.07L519.88 425.7M518.21 425.79L520.17 423.41M518.72 420.94L521.68 417.35M518.94 418.39L522.01 414.66M519.17 415.83L521.66 412.79M519.39 413.28L521.7 410.46M519.83 408.17L522.94 404.38M520.28 403.06L522.78 400.01M522.5 398.5L524.68 395.83M527 397.33L522.01 403.51M528 401.67L523.91 406.75M528.5 403.83L524.93 408.27M529.5 411L524.64 417.05M529.75 413.5L525.24 419.12M530 416L525.33 421.82M530.5 421L526.09 426.5M530.75 423.5L526 429.43M532.33 430L527.63 435.89M537.5 430.5L533.94 435.01M538 433L533.04 439.28M539.33 440L535.54 444.82M539.67 442L535.11 447.79M542.5 443.17L545.4 439.46M547.3 434.1L549.25 431.59M548.1 429.7L550.2 426.98M548.7 424.93L551.78 420.95M548.9 422.36L551.95 418.41M549.1 419.79L551.94 416.11M549.3 417.21L551.32 414.59M549.5 414.64L551.97 411.45M553.4 407L556.19 403.36M556.93 405.33L552.97 410.55M557.47 407.67L552.33 414.43M559 415L554.67 420.72M559.5 417.5L555.59 422.67M560.29 422.57L555.3 429.18M560.57 425.14L557.28 429.51M560.86 427.71L556.16 433.94M561.43 432.86L557.85 437.6M562.4 440.2L558.92 444.83M562.8 442.4L558.21 448.5M563.2 444.6L558.83 450.42M563.6 446.8L560.08 451.48M566.17 448.5L568.39 445.54M572.17 444.5L574.16 441.85M573.83 442.5L576.6 438.82M576 441.5L571.72 447.19M585.5 452.25L580.56 458.81M586 454.5L582.39 459.31M586.5 456.75L581.69 463.15M587.75 458.25L589.56 455.84M588 456L590.42 452.79M588.25 453.75L590.87 450.26M590.63 449.5L593.6 445.56M592.77 447.5L595.01 444.52M597 445L599.3 441.94M598 440L600.39 436.82M603.5 433.7L600.31 437.94M604.5 437.9L601.41 442.01M607 437L608.87 434.51M607.75 434.75L609.77 432.07M610.5 430.7L612.96 427.42M612.5 428.9L614.65 426.04M614.5 428.2L610.31 433.77M615 430.8L611.37 435.63M616.18 438.55L612.26 443.76M616.36 441.09L612.1 446.76M616.73 446.18L612.57 451.71M616.91 448.73L613.14 453.74M617.09 451.27L613.95 455.45M617.27 453.82L614.19 457.92M617.45 456.36L612.55 462.88M617.64 458.91L612.8 465.34M617.82 461.45L612.84 468.07M621.57 465.86L616.69 472.35M622.14 470.71L618.17 475.99M622.43 473.14L618.26 478.69M622.71 475.57L618.35 481.37M465.81 402.58L469.67 398.38M465.95 406.05L469.53 402.16M466.03 409.63L469.46 405.9M466.21 413.58L469.27 410.25M466.13 420.7L469.36 417.19M465.53 425.37L469.95 420.57M465.36 432.41L470.12 427.24M465.53 435.74L469.95 430.94M465.76 443.22L469.72 438.92M468.92 395.07L473.9 389.61M469.77 401.6L473.06 397.99M469.69 404.81L473.14 401.03M469.65 412.65L473.17 408.79M469.17 416.98L473.66 412.06M469.28 423.38L473.54 418.71M469.54 430.17L473.29 426.05M469.62 437.67L473.21 433.74M469 441.98L473.83 436.69M473.94 395.23L478.86 389.77M474.17 398.66L478.63 393.72M474.1 402.14L478.7 397.04M474.77 404.79L478.04 401.16M474.02 408.8L478.78 403.53M474.63 415.81L478.18 411.88M473.92 420.76L478.88 415.26M474.52 432.93L478.29 428.74M473.91 440.63L478.9 435.1M478.97 407.9L482.52 403.92M478.61 415.42L482.89 410.63M478.94 418.4L482.56 414.34M479.03 421.9L482.46 418.06M478.91 425.67L482.59 421.55M478.79 429.54L482.7 425.15M478.95 433.22L482.54 429.19M478.43 436.94L483.06 431.76M483.46 440.63L487.47 436.09M483.94 446.86L486.98 443.43M487.74 439.56L491.78 434.95M487.63 446.83L491.89 441.97M491.93 415.94L496.68 410.45M492.29 423.51L496.33 418.84M491.89 427.72L496.72 422.14M492.47 434.36L496.15 430.11M492.4 441.92L496.22 437.51M492.43 445.27L496.18 440.94M492.73 448.64L495.89 444.99M496.32 427.54L499.65 423.67M496.28 434.6L499.69 430.63M495.79 438.65L500.18 433.53M495.95 442.07L500.02 437.35M495.98 448.42L499.99 443.75M496.13 451.5L499.84 447.18M500.84 419.83L505.29 414.6M500.81 440.28L505.31 434.99M500.67 447.81L505.45 442.18M504.79 436.29L509.23 431.02M505.4 438.67L508.62 434.85M505.26 442.71L508.76 438.55M504.96 451.03L509.07 446.15M509.73 439.27L513.19 435.12M509.28 443.75L513.64 438.52M509.55 447.26L513.37 442.68M509.46 451.56L513.46 446.76M514.21 442.51L518.95 436.77M515.02 448.23L518.14 444.45M518.08 405.11L522.48 399.73M518.17 409.11L522.39 403.95M518.69 415.14L521.87 411.25M518.78 418.28L521.77 414.63M518.24 422.36L522.32 417.37M518.52 425.79L522.04 421.49M518.61 429.08L521.95 425M518.57 432.18L521.99 428.01M518.13 436.89L522.43 431.65M518.2 440.66L522.36 435.57M518.47 443.82L522.09 439.39M518.45 454.12L522.11 449.66M522.37 409.14L526.78 403.7M522.82 412.76L526.33 408.44M522.67 416.36L526.48 411.66M522.99 422.83L526.15 418.93M522.78 427.23L526.37 422.8M522.72 437.83L526.42 433.28M522.62 441.4L526.53 436.58M522.43 451.68L526.72 446.4M527.61 418.73L531.18 414.28M527.31 422.25L531.49 417.05M527.28 425.49L531.51 420.23M527.54 428.22L531.25 423.59M527.75 435.07L531.05 430.97M527.47 442.47L531.32 437.67M531.06 441.93L535.65 436.17M531.49 456.61L535.22 451.92M531.47 460.01L535.24 455.28M536.11 441.85L540.39 436.42M536.42 451.56L540.08 446.92M536.08 455.33L540.42 449.83M541.43 448.5L545.41 443.41M542.02 451.46L544.82 447.86M541.55 459.06L545.29 454.27M541.67 462.42L545.17 457.94M546.11 427.7L550.65 421.83M546.1 430.85L550.66 424.95M546.14 437.17L550.62 431.38M546.46 443.26L550.31 438.29M546.2 447.3L550.57 441.64M546.59 456.95L550.18 452.31M546.83 463.17L549.94 459.15M551.6 419.83L554.69 415.8M551.21 423.96L555.08 418.89M551.38 426.79L554.91 422.17M551.03 431.04L555.26 425.52M551.32 434.46L554.97 429.69M550.98 442.28L555.31 436.62M551.56 445.08L554.73 440.95M551.16 449.02L555.13 443.83M550.97 452.68L555.32 446.99M551.46 463L554.83 458.6M555.71 411.1L558.74 407.11M555.69 414.53L558.76 410.48M555.76 421.47L558.68 417.63M555.06 436.6L559.38 430.91M555.47 442.81L558.98 438.18M555.43 461.73L559.01 457.02M560.51 446.04L564.18 441.16M560.66 460.73L564.04 456.24M560.1 464.48L564.59 458.5M564.16 457.53L568.16 452.2M564.23 461.24L568.09 456.1M569.04 448.91L573.03 443.6M569.01 456.56L573.06 451.17M569.21 464.1L572.86 459.25M574 446.91L577.5 442.26M573.83 450.23L577.68 445.11M573.64 457.71L577.87 452.08M574.33 460.77L577.18 456.98M574.22 468.02L577.28 463.95M577.3 453.47L581.68 447.65M577.78 456.75L581.2 452.19M577.63 468.13L581.34 463.2M577.75 471.33L581.23 466.71M582.04 454.48L585.82 449.45M582.42 472.22L585.44 468.22M587.19 459.36L590.99 454.31M587.16 465.63L591.02 460.49M586.97 473.67L591.21 468.04M591.55 459.77L595.56 454.44M591.68 463.42L595.44 458.41M591.57 471.27L595.54 465.99M596.27 445.47L599.14 441.65M596.12 452.59L599.29 448.38M595.54 456.39L599.87 450.62M595.89 470.72L599.52 465.89M600.24 442.44L604.26 437.09M600.2 449.63L604.29 444.18M600.07 457.19L604.42 451.39M600.44 463.51L604.06 458.69M600.68 466.76L603.81 462.6M600.39 470.22L604.1 465.29M600.37 473.53L604.12 468.54M605.29 444.45L609.42 438.96M605.75 451.12L608.97 446.84M605.18 455.62L609.53 449.84M605.63 458.18L609.08 453.6M605.91 464.29L608.8 460.45M605.32 468.55L609.4 463.13M605.47 474.88L609.25 469.86M605.21 478.48L609.5 472.77M610.77 431.69L613.95 427.46M610.24 436.28L614.48 430.64M610.51 439.64L614.21 434.71M610.83 442.27L613.9 438.19M610.58 461.05L614.14 456.3M610.44 465.25L614.28 460.14M610.96 468.56L613.76 464.83M614.63 452.17L618.26 447.35M614.91 455.76L617.99 451.66M614.62 460.15L618.27 455.29M614.3 464.19L618.59 458.49M614.22 467.69L618.67 461.77M614.55 470.37L618.35 465.32M614.51 473.68L618.38 468.53M618.44 468.99L621.7 464.67M618.54 472.45L621.6 468.39M617.99 477.31L622.15 471.78" stroke="#000078" stroke-width="0.9" fill="none" opacity="0.55" clip-path="url(#cdblue)"/>
<path d="M463 440.68L463 445.86M471.41 416.36L471.41 426.29M476.4 407.01L476.4 427.48M485.46 431.88L485.46 451.32M511.46 444.47L511.46 457.64M538.25 439.3L538.25 454.35M543.42 453.1L543.42 461.54M548.38 425.58L548.38 442.74M557.22 428.87L557.22 468.74M562.35 455L562.35 462.08M571.04 449.22L571.04 455.86M575.75 458.02L575.75 468.56M579.49 458.43L579.49 474.16M597.7 450.56L597.7 458.98M602.25 455.22L602.25 469.61M612.36 438.13L612.36 463.85" stroke="#000078" stroke-width="0.7" fill="none" opacity="0.35" clip-path="url(#cdblue)"/>
<clipPath id="cdmag"><polygon points="432,473 432,458 440,450 440,438 448,432 450,440 455,439 458,448 460,456 461,419 469,413 471,424 474,434 477,446 479,452 483,450 485,458 489,458 492,468 495,472 499,469 501,479 504,481 512,480 518,473 521,482 526,484 531,480 533,486 536,482 538,490 546,488 548,475 554,469 556,477 559,481 564,478 570,480 575,476 577,467 582,460 584,468 586,475 588,461 593,454 595,466 597,484 599,496 602,493 604,507 596,517"/></clipPath>
<polygon points="432,473 432,458 440,450 440,438 448,432 450,440 455,439 458,448 460,456 461,419 469,413 471,424 474,434 477,446 479,452 483,450 485,458 489,458 492,468 495,472 499,469 501,479 504,481 512,480 518,473 521,482 526,484 531,480 533,486 536,482 538,490 546,488 548,475 554,469 556,477 559,481 564,478 570,480 575,476 577,467 582,460 584,468 586,475 588,461 593,454 595,466 597,484 599,496 602,493 604,507 596,517" fill="#ff00ff" stroke="#ff00ff" stroke-width="0.4"/>
<g fill="#90008c" opacity="0.36" clip-path="url(#cdmag)"><polygon points="448,432 450,440 444.1,446.11 442.1,438.11"/><polygon points="455,439 458,448 452.15,454.17 449.15,445.17"/><polygon points="458,448 460,456 454.17,462.19 452.17,454.19"/><polygon points="469,413 471,424 465.25,430.26 463.25,419.26"/><polygon points="471,424 474,434 468.27,440.28 465.27,430.28"/><polygon points="474,434 477,446 471.29,452.3 468.29,440.3"/><polygon points="477,446 479,452 473.31,458.32 471.31,452.32"/><polygon points="483,450 485,458 479.35,464.35 477.35,456.35"/><polygon points="489,458 492,468 486.4,474.39 483.4,464.39"/><polygon points="499,469 501,479 495.47,485.45 493.47,475.45"/><polygon points="518,473 521,482 515.6,488.56 512.6,479.56"/><polygon points="531,480 533,486 527.69,492.64 525.69,486.64"/><polygon points="536,482 538,490 532.72,496.66 530.72,488.66"/><polygon points="554,469 556,477 550.84,483.75 548.84,475.75"/><polygon points="582,460 584,468 578.89,474.79 576.89,466.79"/><polygon points="584,468 586,475 580.89,481.79 578.89,474.79"/><polygon points="593,454 595,466 589.89,472.79 587.89,460.79"/><polygon points="595,466 597,484 591.89,490.79 589.89,472.79"/><polygon points="597,484 599,496 593.89,502.79 591.89,490.79"/><polygon points="602,493 604,507 598.89,513.79 596.89,499.79"/></g>
<path d="M436.5 455.5L439.11 452.88M438.5 453.5L441.98 449.98M440.5 449.1L442.86 446.71M440.5 441.9L443.34 439.02M443.17 437.5L446.03 434.57M445.83 435.5L449.23 432M448.5 434L442.99 439.71M449.5 438L444.42 443.28M458.5 450L453.99 454.79M459 452L454.14 457.18M460.57 455.03L463.83 451.55M460.63 452.57L463.33 449.69M460.7 450.1L463.5 447.11M460.77 447.63L464.2 443.97M460.97 440.23L463.13 437.92M461.1 435.3L464.42 431.76M461.17 432.83L463.45 430.4M461.23 430.37L464.64 426.73M461.3 427.9L464.13 424.88M461.43 422.97L463.62 420.63M464.17 418.5L467.25 415.19M466.83 416.5L470 413.07M469.4 415.2L464.59 420.44M469.8 417.4L466 421.54M470.2 419.6L466.14 424.04M470.6 421.8L465.16 427.74M471.75 426.5L466.27 432.51M473.25 431.5L468.06 437.21M475.2 438.8L470.65 443.83M476.4 443.6L472.86 447.52M477.67 448L473.01 453.17M478.33 450L474.43 454.35M483.5 452L478.84 457.25M484 454L480.57 457.87M489.75 460.5L485.91 464.89M490.5 463L487.02 466.99M491.25 465.5L487.8 469.45M499.5 471.5L495.15 476.58M500 474L496.1 478.56M500.5 476.5L496.29 481.43M514.5 479.17L517.42 475.65M516.5 476.83L518.78 474.08M518.75 475.25L513.39 481.77M519.5 477.5L515.62 482.23M520.25 479.75L515.28 485.82M531.67 482L527.23 487.55M532.33 484L527.18 490.45M536.5 484L531.92 489.79M537 486L533.82 490.02M537.5 488L532.45 494.4M546.83 487.33L548.73 484.9M547.17 485.17L549.82 481.75M547.5 483L550.61 478.99M547.83 480.83L550.33 477.62M548.17 478.67L550.58 475.55M550.5 474.5L553.46 470.66M552.5 472.5L554.93 469.33M554.5 471L549.38 477.7M555 473L551.36 477.77M555.5 475L551.97 479.63M576 475.25L578.12 472.43M576.5 473L579.49 469.02M577 470.75L579.78 467.05M579.17 466.17L581.12 463.57M580.83 463.83L582.96 461M582.5 462L578.64 467.13M583 464L578.75 469.65M583.5 466L580.08 470.55M584.67 470.33L581.51 474.53M586.83 474.17L588.75 471.62M587.5 469.5L589.74 466.53M587.83 467.17L589.65 464.75M588.17 464.83L590.78 461.35M590.17 460.17L593.05 456.33M591.83 457.83L594.79 453.89M593.4 456.4L589.75 461.25M594.2 461.2L590.57 466.03M594.6 463.6L589.88 469.88M595.29 468.57L591.49 473.62M595.57 471.14L591.45 476.63M595.86 473.71L592.24 478.52M596.43 478.86L593.07 483.32M597.4 486.4L594.05 490.86M598.2 491.2L593.26 497.77M598.6 493.6L593.85 499.92M602.33 495.33L598.76 500.09M602.67 497.67L599.11 502.4M603.33 502.33L599.6 507.3M431.57 460.93L435.43 457.07M436.01 457.72L440.75 452.93M436.25 460.58L440.51 456.28M436.37 468.06L440.39 464M441.12 442.69L445.73 437.98M441.18 453.66L445.67 449.07M440.81 458.17L446.04 452.82M445.3 437.16L449.77 432.54M445.03 444.76L450.03 439.6M445.76 451.13L449.3 447.46M445.84 458.68L449.22 455.18M444.95 466.37L450.11 461.04M450.59 445.17L454.33 441.25M450.28 449.53L454.63 444.97M450.17 452.95L454.75 448.16M450.73 470.22L454.19 466.6M454.35 455.2L459.16 450.11M454.27 458.63L459.23 453.38M454.4 462.11L459.1 457.13M454.54 472.88L458.96 468.2M459.55 423.35L464.33 418.23M460.36 432.96L463.53 429.55M459.97 441.15L463.92 436.91M460.19 444.4L463.7 440.63M460.39 448.28L463.5 444.94M459.8 452.04L464.09 447.45M460.4 454.49L463.49 451.18M459.63 462.49L464.25 457.54M460.36 465.27L463.53 461.88M463.55 421.55L468.13 416.6M463.96 424.89L467.71 420.83M463.98 432.27L467.7 428.24M464.01 435.54L467.67 431.59M464.29 446.65L467.39 443.3M464.1 453.75L467.57 450M463.83 461.76L467.84 457.42M463.54 466.27L468.13 461.3M468.25 433.93L471.41 430.49M468.2 437.07L471.46 433.5M467.49 441.26L472.17 436.16M468.21 449.75L471.45 446.22M468.26 452.79L471.4 449.36M468.27 456.06L471.39 452.65M468.08 467.51L471.58 463.69M468.18 474.17L471.48 470.56M472.28 437.57L475.35 434.19M471.34 448.92L476.29 443.47M471.57 455.17L476.06 450.23M472.04 462.79L475.59 458.88M471.93 466.12L475.7 461.97M471.34 470.62L476.29 465.17M472.15 473.33L475.48 469.66M471.64 477.31L475.98 472.53M475.68 453.43L479.42 449.26M475.68 457.24L479.42 453.07M475.18 461.12L479.92 455.85M475.12 468.58L479.98 463.18M475.58 472.09L479.52 467.71M475.37 475.88L479.72 471.05M479.78 457.82L484.01 453.08M480 461.54L483.79 457.28M480.34 469.02L483.45 465.53M479.88 473.53L483.9 469.01M480.36 476.08L483.43 472.62M485.05 466.37L488.76 462.15M484.46 470.51L489.35 464.95M485.24 473.48L488.58 469.68M484.58 477.29L489.23 472.01M490.02 482.17L494.18 477.39M495.66 484.5L498.93 480.71M499.88 483.78L503.17 479.92M511.93 482.65L515.69 478.13M511.87 490.15L515.75 485.48M516.95 481.3L520.63 476.82M516.9 488.43L520.67 483.84M524.62 492.73L528.99 487.32M528.26 486.93L532.88 481.16M533.25 490.43L536.93 485.79M542.27 494.61L546.1 489.7M541.96 498.24L546.41 492.54M545.84 482.96L550.05 477.52M546.53 485.26L549.37 481.59M545.74 493.84L550.15 488.14M546.3 496.96L549.59 492.7M550.55 475.38L553.4 471.66M550.23 486.03L553.73 481.46M549.99 489.44L553.97 484.25M550.51 499.83L553.45 496M555.49 484.48L558.86 480.05M555.66 488.3L558.69 484.3M554.92 492.86L559.42 486.94M555.8 495.3L558.55 491.67M560.67 485.93L563.48 482.18M560.17 493.32L563.98 488.25M560.39 496.06L563.76 491.59M564.23 483.81L568.11 478.64M564.69 486.22L567.64 482.29M564.29 493.21L568.05 488.21M564.05 496.92L568.28 491.3M564.55 503.56L567.79 499.25M568.83 489.54L572.46 484.7M568.47 500.7L572.82 494.92M568.69 503.94L572.6 498.75M572.76 483.74L576.72 478.47M572.74 491.13L576.74 485.81M573.32 497.84L576.16 494.05M572.92 501.88L576.56 497.03M576.5 474.13L580.65 468.61M576.97 476.7L580.18 472.43M576.9 479.79L580.24 475.35M576.51 487.35L580.63 481.87M577.15 493.48L580 489.68M576.76 504.21L580.39 499.39M581.04 467.44L583.88 463.67M580.46 475.94L584.46 470.62M580.96 479.12L583.96 475.13M580.71 486.21L584.21 481.55M580.98 488.89L583.94 484.95M580.8 496.32L584.13 491.9M580.79 499.73L584.13 495.3M580.26 504.55L584.67 498.7M580.84 507.22L584.08 502.9M584.49 483.09L588.31 478.01M584.56 486.6L588.25 481.69M584.23 493.59L588.58 487.8M584.53 496.76L588.28 491.77M584.2 504.7L588.61 498.84M584.37 508.05L588.44 502.64M589.89 460.74L593.16 456.39M589.96 481.83L593.08 477.68M589.36 486.29L593.68 480.55M589.64 493.75L593.4 488.75M590.08 496.8L592.96 492.96M589.81 505.26L593.24 500.7M593.28 474.51L597.21 469.29M593.1 482.22L597.39 476.5M593.57 485.75L596.92 481.28M593.35 489.32L597.14 484.29M593.52 492.78L596.97 488.19M593.46 508.45L597.03 503.69M597.59 502.95L601.49 497.77M597.69 509.1L601.39 504.18" stroke="#90008c" stroke-width="0.9" fill="none" opacity="0.55" clip-path="url(#cdmag)"/>
<path d="M433.5 460L433.5 471.4M438.38 459.39L438.38 471.78M452.46 456.09L452.46 476.49M456.75 449.98L456.75 461.45M461.94 439.66L461.94 461.38M469.83 423.48L469.83 463.68M481.89 467.58L481.89 477.61M486.91 469.91L486.91 485.73M497.3 479.26L497.3 488.52M501.53 485.22L501.53 489.65M509.4 483.66L509.4 491.76M513.81 485.25L513.81 492.95M522.74 488.49L522.74 495.34M535.09 491.91L535.09 497.12M540.29 493.81L540.29 500.05M544.18 493.38L544.18 501.1M557.17 490.5L557.17 496.35M562.07 482.53L562.07 488.9M566.17 489.03L566.17 507M599.54 501.63L599.54 511.92" stroke="#90008c" stroke-width="0.7" fill="none" opacity="0.35" clip-path="url(#cdmag)"/>
<clipPath id="cdred"><polygon points="399,503 397.6,475 406,467 408,470 410,480 413,479 415,486 417,483 425,476 427,482 429,496 431,500 438,492 440,498 445,493 447,500 449,506 455,504 457,507 460,506 467,500 469,504 471,511 476,513 486,515 490,510 492,516 498,519 502,516 503,520 520,526 522,525 523.6,504 530,496 532,508 533,523 540,514 543,502 549,496 551,502 553,512 555.6,510 557,498 564,491 566,504 568,520 569,528 572.4,522 575,536 576,541 579,541 572,551"/></clipPath>
<polygon points="399,503 397.6,475 406,467 408,470 410,480 413,479 415,486 417,483 425,476 427,482 429,496 431,500 438,492 440,498 445,493 447,500 449,506 455,504 457,507 460,506 467,500 469,504 471,511 476,513 486,515 490,510 492,516 498,519 502,516 503,520 520,526 522,525 523.6,504 530,496 532,508 533,523 540,514 543,502 549,496 551,502 553,512 555.6,510 557,498 564,491 566,504 568,520 569,528 572.4,522 575,536 576,541 579,541 572,551" fill="#ff0000" stroke="#ff0000" stroke-width="0.4"/>
<g fill="#a80000" opacity="0.36" clip-path="url(#cdred)"><polygon points="408,470 410,480 403.78,485.8 401.78,475.8"/><polygon points="413,479 415,486 408.82,491.84 406.82,484.84"/><polygon points="425,476 427,482 420.92,487.94 418.92,481.94"/><polygon points="427,482 429,496 422.93,501.95 420.93,487.95"/><polygon points="438,492 440,498 434.02,504.04 432.02,498.04"/><polygon points="445,493 447,500 441.07,506.09 439.07,499.09"/><polygon points="447,500 449,506 443.09,512.11 441.09,506.11"/><polygon points="469,504 471,511 465.25,517.26 463.25,510.26"/><polygon points="490,510 492,516 486.4,522.4 484.4,516.4"/><polygon points="530,496 532,508 526.68,514.63 524.68,502.63"/><polygon points="532,508 533,523 527.69,529.64 526.69,514.64"/><polygon points="549,496 551,502 545.81,508.73 543.81,502.73"/><polygon points="551,502 553,512 547.82,518.74 545.82,508.74"/><polygon points="564,491 566,504 560.89,510.79 558.89,497.79"/><polygon points="566,504 568,520 562.89,526.79 560.89,510.79"/><polygon points="568,520 569,528 563.89,534.79 562.89,526.79"/><polygon points="572.4,522 575,536 569.89,542.79 567.29,528.79"/><polygon points="575,536 576,541 570.89,547.79 569.89,542.79"/></g>
<path d="M404.4 470.5L407.63 467.52M408.5 472.5L404.11 476.6M409 475L405.35 478.42M409.5 477.5L403.88 482.76M413.67 481.33L407.64 487.05M414.33 483.67L409.42 488.33M420.17 482.17L422.88 479.55M422.83 479.83L426 476.76M428.67 493.67L423.77 498.49M433.25 499.5L435.58 497.18M435 497.5L437.7 494.79M436.75 495.5L439.23 493.01M438.67 494L434.2 498.51M439.33 496L435.77 499.61M443 497L445.26 494.69M445.67 495.33L441.95 499.16M446.33 497.67L441.8 502.34M447.67 502L441.98 507.88M448.33 504L442.85 509.68M462.83 505.5L465.86 502.26M465.17 503.5L467.32 501.17M469.67 506.33L465.04 511.38M470.33 508.67L465.92 513.49M488.5 514L491.15 510.99M490.67 512L485.3 518.15M491.33 514L486.1 520.01M508.67 522L504.74 526.68M514.33 524L509.92 529.33M522.68 524.17L525.01 521.31M523.03 519.5L526.09 515.75M523.21 517.17L525.98 513.76M523.39 514.83L526.34 511.21M523.57 512.5L526.71 508.64M523.74 510.17L526.23 507.11M525.7 503.5L527.63 501.11M527.3 501.5L529.36 498.95M530.4 498.4L525.92 503.99M530.8 500.8L526.84 505.74M531.2 503.2L526.72 508.8M531.6 505.6L527.43 510.81M532.5 515.5L527.97 521.17M532.83 520.5L527.87 526.72M535.25 522.25L538.16 518.59M537 520L539.69 516.6M538.75 517.75L540.79 515.17M542.9 505.9L545.18 502.98M547.5 499.5L550.16 496.07M549.67 498L544.72 504.41M550.33 500L546.34 505.19M551.5 504.5L547.89 509.19M552.5 509.5L549.04 514.01M556.66 506.7L558.51 504.26M556.94 504.3L559.4 501.07M557.22 501.9L559.33 499.13M562.17 494.83L565.18 490.83M564.33 493.17L560.49 498.28M564.67 495.33L559.63 502.03M565 497.5L560.27 503.79M565.33 499.67L561.22 505.14M565.67 501.83L561.17 507.81M566.29 506.29L561.23 513.01M567.71 517.71L563.54 523.27M568.25 522L563.36 528.51M568.75 526L565.74 530.01M571.77 525.5L574.58 521.76M572.83 524.33L569.78 528.4M573.7 529L568.6 535.78M575.5 538.5L572.27 542.8M396.51 478.42L401.69 473.72M396.94 484.72L401.26 480.79M400.09 486.4L405.42 481.5M400.62 489.59L404.89 485.67M400.28 493.62L405.23 489.07M400.69 496.94L404.82 493.14M404.8 476.18L409.8 471.52M405.27 478.79L409.33 475.01M405.25 486.61L409.35 482.79M405.24 489.87L409.36 486.03M405.12 496.55L409.48 492.49M409.49 484.27L414.74 479.32M410.31 487.3L413.92 483.9M409.87 491.08L414.36 486.84M410.11 494.8L414.13 491.01M409.66 498.96L414.57 494.32M419.15 486.18L422.7 482.75M418.58 490.72L423.27 486.19M418.6 493.89L423.26 489.39M418.63 501.72L423.22 497.29M424.03 482.74L427.62 479.22M423.21 494.49L428.44 489.38M437.48 501.12L441.56 496.98M437.62 504.5L441.41 500.65M442.03 510.35L446.94 505.32M451.74 508.81L455.16 505.22M461.79 509.8L465.7 505.59M466.22 507.87L470.71 502.99M466.79 510.28L470.14 506.64M466.24 514.67L470.69 509.84M487.94 518.4L492.61 513.05M509.04 529.45L513.7 523.86M522.87 508.58L527.09 503.37M522.63 512.63L527.33 506.83M522.66 530.13L527.31 524.39M523.2 532.49L526.76 528.09M527.78 503.67L530.84 499.86M527.68 507.39L530.93 503.34M527.24 519.75L531.38 514.61M526.98 524.12L531.64 518.31M527.67 527.04L530.95 522.96M532.95 525.52L535.92 521.78M532.68 529.52L536.2 525.09M532.42 533.54L536.46 528.47M541.62 523.6L545.83 518.21M542.15 529.49L545.3 525.44M542.22 533.34L545.23 529.48M541.64 537.96L545.81 532.62M546.9 504.75L550.23 500.44M546.9 516.31L550.22 512.02M546.74 520.21L550.38 515.5M546.94 523.48L550.18 519.29M546.94 527.54L550.19 523.34M550.38 519.65L554.65 514.09M550.39 523.3L554.64 517.76M550.74 525.93L554.29 521.29M550.54 538.12L554.49 532.98M556.18 508.11L559.11 504.26M555.4 512.78L559.89 506.87M556.1 515.95L559.19 511.88M556.08 519.87L559.21 515.74M555.55 524.29L559.74 518.78M555.78 531.19L559.51 526.29M556.19 536.87L559.1 533.03M556.16 540.21L559.13 536.29M560.9 505.18L563.79 501.33M560.91 511.99L563.78 508.17M560.85 515.96L563.84 511.98M560.88 522.43L563.81 518.54M560.44 536.62L564.25 531.56M564.42 522.66L568.62 517.07M564.72 526.41L568.32 521.62M564.56 530.42L568.48 525.21M564.4 534.12L568.65 528.47M569.13 531.99L572.29 527.79M569.25 535.36L572.17 531.47M568.91 539.03L572.51 534.24" stroke="#a80000" stroke-width="0.9" fill="none" opacity="0.55" clip-path="url(#cdred)"/>
<path d="M402.76 473.42L402.76 494.4M407.3 473.78L407.3 493.46M415.91 494.26L415.91 504.98M429.79 501.85L429.79 509.54M444.49 503.15L444.49 513.62M449.01 510.14L449.01 514.88M453.45 508.4L453.45 516.11M472.23 514.74L472.23 521.32M481.68 519.02L481.68 523.94M493.98 521.31L493.98 527.35M498.61 523.94L498.61 528.64M502.63 522.97L502.63 529.75M511.37 526.24L511.37 532.13M529.31 504.76L529.31 520.33M534.44 525.69L534.44 537.53M538.94 528.52L538.94 539.83M548.56 518.17L548.56 533.73M566.52 518.98L566.52 524M570.71 532.73L570.71 548.64M575.52 544.86L575.52 549.98" stroke="#a80000" stroke-width="0.7" fill="none" opacity="0.35" clip-path="url(#cdred)"/>
<path d="M468.04 519.39L476.86 509.84M470.87 520.17L479.66 510.59M473.2 520.81L481.96 511.21M476.57 521.74L485.3 512.11M480.43 522.81L489.12 513.13M483.76 523.72L492.41 514.02M486.23 524.4L494.85 514.67M489.48 525.3L498.06 515.54M492.37 526.1L500.92 516.31M494.52 526.69L503.05 516.88M497.34 527.47L505.84 517.63M500.99 528.48L509.45 518.61M504.35 529.4L512.77 519.5" stroke="#fff" stroke-width="0.5" fill="none" opacity="0.7" clip-path="url(#cdred)"/>
<polyline points="387.8,513.8 562.7,564.9 632.9,469.3 647,324.3" fill="none" stroke="#1a1a1a" stroke-width="0.8"/>
<path d="M647 324.3L642.7 323.44M646.06 334L643.66 333.52M645.11 343.7L640.81 342.84M644.17 353.4L641.77 352.92M643.23 363.1L638.93 362.24M642.29 372.75L639.89 372.27M641.35 382.4L637.05 381.54M640.46 391.55L638.06 391.07M639.57 400.7L635.27 399.84M638.72 409.45L636.32 408.97M637.87 418.2L633.57 417.34M637.05 426.65L634.65 426.17M636.23 435.1L631.93 434.24M635.4 443.55L633 443.07M634.58 452L630.28 451.14M633.74 460.65L631.34 460.17M632.9 469.3L628.6 468.44M387.8 513.8L388.1 511.4M416.5 522.19L416.8 519.79M450.5 532.12L450.8 529.72M487.5 542.93L487.8 540.53M525.5 554.03L525.8 551.63M398.9 517.04L399.1 515.64M433 527.01L433.2 525.61M469 537.52L469.2 536.12M506.5 548.48L506.7 547.08M544 559.44L544.2 558.04M576.74 545.78L574.14 545.08M588.67 529.53L586.87 529.04M601.31 512.32L598.71 511.62M612.54 497.02L610.74 496.54M624.48 480.77L621.88 480.07" stroke="#1a1a1a" stroke-width="0.7" fill="none"/>
<text transform="translate(650.8 328.5) rotate(10) skewX(-5)" font-size="7.2" text-anchor="start" textLength="25.8" lengthAdjust="spacingAndGlyphs">0.0040</text>
<text transform="translate(648.91 347.9) rotate(10) skewX(-5)" font-size="7.2" text-anchor="start" textLength="25.5" lengthAdjust="spacingAndGlyphs">0.0035</text>
<text transform="translate(647.03 367.3) rotate(10) skewX(-5)" font-size="7.2" text-anchor="start" textLength="25.2" lengthAdjust="spacingAndGlyphs">0.0030</text>
<text transform="translate(645.15 386.6) rotate(10) skewX(-5)" font-size="7.2" text-anchor="start" textLength="24.9" lengthAdjust="spacingAndGlyphs">0.0025</text>
<text transform="translate(643.37 404.9) rotate(10) skewX(-5)" font-size="7.2" text-anchor="start" textLength="24.6" lengthAdjust="spacingAndGlyphs">0.0020</text>
<text transform="translate(641.67 422.4) rotate(10) skewX(-5)" font-size="7.2" text-anchor="start" textLength="24.3" lengthAdjust="spacingAndGlyphs">0.0015</text>
<text transform="translate(640.03 439.3) rotate(10) skewX(-5)" font-size="7.2" text-anchor="start" textLength="24" lengthAdjust="spacingAndGlyphs">0.0010</text>
<text transform="translate(638.38 456.2) rotate(10) skewX(-5)" font-size="7.2" text-anchor="start" textLength="23.7" lengthAdjust="spacingAndGlyphs">0.0005</text>
<text transform="translate(636.7 472.3) rotate(10) skewX(-5)" font-size="7.2" text-anchor="start" textLength="23.4" lengthAdjust="spacingAndGlyphs">0.0000</text>
<text transform="translate(680.3 408.3) rotate(-80.5)" font-size="10.5" text-anchor="middle" textLength="55.5" lengthAdjust="spacingAndGlyphs">Input energy <tspan font-style="italic">(J)</tspan></text>
<text transform="translate(411.5 529.79) rotate(-57)" font-size="7.5" text-anchor="middle" font-style="italic" textLength="10" lengthAdjust="spacingAndGlyphs">2.0</text>
<text transform="translate(445.5 539.72) rotate(-57)" font-size="7.5" text-anchor="middle" font-style="italic" textLength="10" lengthAdjust="spacingAndGlyphs">1.5</text>
<text transform="translate(482.5 550.53) rotate(-57)" font-size="7.5" text-anchor="middle" font-style="italic" textLength="10" lengthAdjust="spacingAndGlyphs">1.0</text>
<text transform="translate(520.5 561.63) rotate(-57)" font-size="7.5" text-anchor="middle" font-style="italic" textLength="10" lengthAdjust="spacingAndGlyphs">0.5</text>
<text transform="translate(558.9 573.64) rotate(-57)" font-size="7.5" text-anchor="middle" font-style="italic" textLength="10" lengthAdjust="spacingAndGlyphs">0.0</text>
<text transform="translate(458.5 564.9) rotate(17.3)" font-size="10" text-anchor="middle" font-style="italic" textLength="103" lengthAdjust="spacingAndGlyphs">Cutting distance (mm)</text>
<text transform="translate(582.6 550.2) rotate(34)" font-size="6.2" text-anchor="middle">1</text>
<text transform="translate(607.3 516.9) rotate(34)" font-size="6.2" text-anchor="middle">2</text>
<text transform="translate(628.5 486) rotate(34)" font-size="6.2" text-anchor="middle">3</text>
<text transform="translate(615.9 526.1) rotate(-53.7)" font-size="10.5" text-anchor="middle" textLength="69.5" lengthAdjust="spacingAndGlyphs">Cutting depth (mm)</text>
<text x="358.8" y="298" font-size="16.5">(d)</text>
</g>
</svg></body></html>
